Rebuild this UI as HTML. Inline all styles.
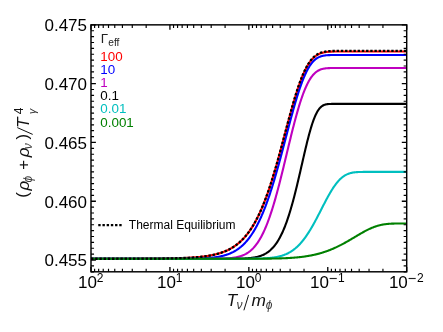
<!DOCTYPE html><html><head><meta charset="utf-8"><title>plot</title>
<style>html,body{margin:0;padding:0;background:#fff;}svg{display:block;will-change:transform;}text{font-family:"Liberation Sans",sans-serif;}</style></head><body>
<svg width="443" height="332" viewBox="0 0 443 332">
<rect x="0" y="0" width="443" height="332" fill="#fff"/>
<defs><clipPath id="c"><rect x="91.0" y="24.85" width="315.7" height="246.95000000000002"/></clipPath></defs>
<g clip-path="url(#c)" fill="none" stroke-width="2.1" stroke-linejoin="round">
<path d="M91.0,258.74 L91.5,258.74 L92.0,258.74 L92.5,258.74 L93.0,258.74 L93.5,258.74 L94.0,258.74 L94.5,258.74 L95.0,258.74 L95.5,258.74 L96.0,258.74 L96.5,258.74 L97.0,258.74 L97.5,258.74 L98.0,258.74 L98.5,258.74 L99.0,258.74 L99.5,258.74 L100.0,258.74 L100.5,258.74 L101.0,258.74 L101.5,258.74 L102.0,258.74 L102.5,258.74 L103.0,258.74 L103.5,258.74 L104.0,258.74 L104.5,258.74 L105.0,258.73 L105.5,258.73 L106.0,258.73 L106.5,258.73 L107.0,258.73 L107.5,258.73 L108.0,258.73 L108.5,258.73 L109.0,258.73 L109.5,258.73 L110.0,258.73 L110.5,258.73 L111.0,258.73 L111.5,258.73 L112.0,258.73 L112.5,258.73 L113.0,258.73 L113.5,258.73 L114.0,258.73 L114.5,258.73 L115.0,258.73 L115.5,258.73 L116.0,258.73 L116.5,258.73 L117.0,258.72 L117.5,258.72 L118.0,258.72 L118.5,258.72 L119.0,258.72 L119.5,258.72 L120.0,258.72 L120.5,258.72 L121.0,258.72 L121.5,258.72 L122.0,258.72 L122.5,258.72 L123.0,258.72 L123.5,258.72 L124.0,258.72 L124.5,258.71 L125.0,258.71 L125.5,258.71 L126.0,258.71 L126.5,258.71 L127.0,258.71 L127.5,258.71 L128.0,258.71 L128.5,258.71 L129.0,258.71 L129.5,258.71 L130.0,258.70 L130.5,258.70 L131.0,258.70 L131.5,258.70 L132.0,258.70 L132.5,258.70 L133.0,258.70 L133.5,258.70 L134.0,258.70 L134.5,258.69 L135.0,258.69 L135.5,258.69 L136.0,258.69 L136.5,258.69 L137.0,258.69 L137.5,258.68 L138.0,258.68 L138.5,258.68 L139.0,258.68 L139.5,258.68 L140.0,258.68 L140.5,258.67 L141.0,258.67 L141.5,258.67 L142.0,258.67 L142.5,258.67 L143.0,258.66 L143.5,258.66 L144.0,258.66 L144.5,258.66 L145.0,258.66 L145.5,258.65 L146.0,258.65 L146.5,258.65 L147.0,258.65 L147.5,258.64 L148.0,258.64 L148.5,258.64 L149.0,258.63 L149.5,258.63 L150.0,258.63 L150.5,258.63 L151.0,258.62 L151.5,258.62 L152.0,258.62 L152.5,258.61 L153.0,258.61 L153.5,258.60 L154.0,258.60 L154.5,258.60 L155.0,258.59 L155.5,258.59 L156.0,258.58 L156.5,258.58 L157.0,258.58 L157.5,258.57 L158.0,258.57 L158.5,258.56 L159.0,258.56 L159.5,258.55 L160.0,258.55 L160.5,258.54 L161.0,258.53 L161.5,258.53 L162.0,258.52 L162.5,258.52 L163.0,258.51 L163.5,258.50 L164.0,258.50 L164.5,258.49 L165.0,258.48 L165.5,258.48 L166.0,258.47 L166.5,258.46 L167.0,258.45 L167.5,258.44 L168.0,258.44 L168.5,258.43 L169.0,258.42 L169.5,258.41 L170.0,258.40 L170.5,258.39 L171.0,258.38 L171.5,258.37 L172.0,258.36 L172.5,258.35 L173.0,258.34 L173.5,258.33 L174.0,258.32 L174.5,258.30 L175.0,258.29 L175.5,258.28 L176.0,258.27 L176.5,258.25 L177.0,258.24 L177.5,258.22 L178.0,258.21 L178.5,258.20 L179.0,258.18 L179.5,258.16 L180.0,258.15 L180.5,258.13 L181.0,258.11 L181.5,258.10 L182.0,258.08 L182.5,258.06 L183.0,258.04 L183.5,258.02 L184.0,258.00 L184.5,257.98 L185.0,257.96 L185.5,257.93 L186.0,257.91 L186.5,257.89 L187.0,257.86 L187.5,257.84 L188.0,257.81 L188.5,257.79 L189.0,257.76 L189.5,257.73 L190.0,257.70 L190.5,257.67 L191.0,257.64 L191.5,257.61 L192.0,257.58 L192.5,257.54 L193.0,257.51 L193.5,257.48 L194.0,257.44 L194.5,257.40 L195.0,257.36 L195.5,257.32 L196.0,257.28 L196.5,257.24 L197.0,257.20 L197.5,257.16 L198.0,257.11 L198.5,257.06 L199.0,257.02 L199.5,256.97 L200.0,256.92 L200.5,256.86 L201.0,256.81 L201.5,256.75 L202.0,256.70 L202.5,256.64 L203.0,256.58 L203.5,256.52 L204.0,256.45 L204.5,256.39 L205.0,256.32 L205.5,256.25 L206.0,256.18 L206.5,256.11 L207.0,256.03 L207.5,255.95 L208.0,255.88 L208.5,255.79 L209.0,255.71 L209.5,255.62 L210.0,255.53 L210.5,255.44 L211.0,255.35 L211.5,255.25 L212.0,255.15 L212.5,255.05 L213.0,254.94 L213.5,254.84 L214.0,254.72 L214.5,254.61 L215.0,254.49 L215.5,254.37 L216.0,254.25 L216.5,254.12 L217.0,253.99 L217.5,253.85 L218.0,253.71 L218.5,253.57 L219.0,253.42 L219.5,253.27 L220.0,253.12 L220.5,252.96 L221.0,252.80 L221.5,252.63 L222.0,252.46 L222.5,252.28 L223.0,252.10 L223.5,251.91 L224.0,251.72 L224.5,251.52 L225.0,251.32 L225.5,251.11 L226.0,250.89 L226.5,250.67 L227.0,250.45 L227.5,250.21 L228.0,249.98 L228.5,249.73 L229.0,249.48 L229.5,249.22 L230.0,248.95 L230.5,248.68 L231.0,248.40 L231.5,248.12 L232.0,247.82 L232.5,247.52 L233.0,247.21 L233.5,246.89 L234.0,246.56 L234.5,246.23 L235.0,245.88 L235.5,245.53 L236.0,245.17 L236.5,244.80 L237.0,244.42 L237.5,244.03 L238.0,243.62 L238.5,243.21 L239.0,242.79 L239.5,242.36 L240.0,241.92 L240.5,241.46 L241.0,241.00 L241.5,240.52 L242.0,240.03 L242.5,239.53 L243.0,239.01 L243.5,238.49 L244.0,237.95 L244.5,237.40 L245.0,236.83 L245.5,236.25 L246.0,235.66 L246.5,235.05 L247.0,234.43 L247.5,233.80 L248.0,233.15 L248.5,232.48 L249.0,231.80 L249.5,231.10 L250.0,230.39 L250.5,229.66 L251.0,228.91 L251.5,228.15 L252.0,227.37 L252.5,226.58 L253.0,225.76 L253.5,224.93 L254.0,224.08 L254.5,223.21 L255.0,222.33 L255.5,221.42 L256.0,220.50 L256.5,219.55 L257.0,218.59 L257.5,217.61 L258.0,216.61 L258.5,215.59 L259.0,214.55 L259.5,213.48 L260.0,212.40 L260.5,211.30 L261.0,210.18 L261.5,209.03 L262.0,207.87 L262.5,206.68 L263.0,205.47 L263.5,204.24 L264.0,202.99 L264.5,201.72 L265.0,200.43 L265.5,199.11 L266.0,197.78 L266.5,196.42 L267.0,195.04 L267.5,193.64 L268.0,192.22 L268.5,190.78 L269.0,189.31 L269.5,187.83 L270.0,186.33 L270.5,184.80 L271.0,183.26 L271.5,181.69 L272.0,180.11 L272.5,178.50 L273.0,176.88 L273.5,175.24 L274.0,173.58 L274.5,171.90 L275.0,170.21 L275.5,168.50 L276.0,166.77 L276.5,165.03 L277.0,163.28 L277.5,161.50 L278.0,159.72 L278.5,157.92 L279.0,156.11 L279.5,154.29 L280.0,152.46 L280.5,150.62 L281.0,148.77 L281.5,146.91 L282.0,145.04 L282.5,143.17 L283.0,141.29 L283.5,139.41 L284.0,137.53 L284.5,135.64 L285.0,133.75 L285.5,131.87 L286.0,129.98 L286.5,128.10 L287.0,126.22 L287.5,124.34 L288.0,122.47 L288.5,120.61 L289.0,118.76 L289.5,116.91 L290.0,115.08 L290.5,113.25 L291.0,111.45 L291.5,109.65 L292.0,107.87 L292.5,106.11 L293.0,104.37 L293.5,102.64 L294.0,100.94 L294.5,99.25 L295.0,97.59 L295.5,95.95 L296.0,94.34 L296.5,92.75 L297.0,91.19 L297.5,89.66 L298.0,88.15 L298.5,86.68 L299.0,85.23 L299.5,83.82 L300.0,82.43 L300.5,81.08 L301.0,79.76 L301.5,78.48 L302.0,77.23 L302.5,76.01 L303.0,74.82 L303.5,73.67 L304.0,72.56 L304.5,71.48 L305.0,70.44 L305.5,69.43 L306.0,68.45 L306.5,67.51 L307.0,66.61 L307.5,65.74 L308.0,64.90 L308.5,64.10 L309.0,63.33 L309.5,62.60 L310.0,61.90 L310.5,61.23 L311.0,60.59 L311.5,59.98 L312.0,59.40 L312.5,58.85 L313.0,58.33 L313.5,57.84 L314.0,57.37 L314.5,56.94 L315.0,56.52 L315.5,56.13 L316.0,55.77 L316.5,55.42 L317.0,55.10 L317.5,54.80 L318.0,54.52 L318.5,54.26 L319.0,54.02 L319.5,53.79 L320.0,53.58 L320.5,53.39 L321.0,53.21 L321.5,53.05 L322.0,52.89 L322.5,52.75 L323.0,52.63 L323.5,52.51 L324.0,52.40 L324.5,52.30 L325.0,52.21 L325.5,52.13 L326.0,52.06 L326.5,51.99 L327.0,51.93 L327.5,51.88 L328.0,51.83 L328.5,51.78 L329.0,51.75 L329.5,51.71 L330.0,51.68 L330.5,51.65 L331.0,51.63 L331.5,51.60 L332.0,51.58 L332.5,51.57 L333.0,51.55 L333.5,51.54 L334.0,51.53 L334.5,51.52 L335.0,51.51 L335.5,51.50 L336.0,51.49 L336.5,51.49 L337.0,51.48 L337.5,51.48 L338.0,51.47 L338.5,51.47 L339.0,51.47 L339.5,51.46 L340.0,51.46 L340.5,51.46 L341.0,51.46 L341.5,51.46 L342.0,51.46 L342.5,51.45 L343.0,51.45 L343.5,51.45 L344.0,51.45 L344.5,51.45 L345.0,51.45 L345.5,51.45 L346.0,51.45 L346.5,51.45 L347.0,51.45 L347.5,51.45 L348.0,51.45 L348.5,51.45 L349.0,51.45 L349.5,51.45 L350.0,51.45 L350.5,51.45 L351.0,51.45 L351.5,51.45 L352.0,51.45 L352.5,51.45 L353.0,51.45 L353.5,51.45 L354.0,51.45 L354.5,51.45 L355.0,51.45 L355.5,51.45 L356.0,51.45 L356.5,51.45 L357.0,51.45 L357.5,51.45 L358.0,51.45 L358.5,51.45 L359.0,51.45 L359.5,51.45 L360.0,51.45 L360.5,51.45 L361.0,51.45 L361.5,51.45 L362.0,51.45 L362.5,51.45 L363.0,51.45 L363.5,51.45 L364.0,51.45 L364.5,51.45 L365.0,51.45 L365.5,51.45 L366.0,51.45 L366.5,51.45 L367.0,51.45 L367.5,51.45 L368.0,51.45 L368.5,51.45 L369.0,51.45 L369.5,51.45 L370.0,51.45 L370.5,51.45 L371.0,51.45 L371.5,51.45 L372.0,51.45 L372.5,51.45 L373.0,51.45 L373.5,51.45 L374.0,51.45 L374.5,51.45 L375.0,51.45 L375.5,51.45 L376.0,51.45 L376.5,51.45 L377.0,51.45 L377.5,51.45 L378.0,51.45 L378.5,51.45 L379.0,51.45 L379.5,51.45 L380.0,51.45 L380.5,51.45 L381.0,51.45 L381.5,51.45 L382.0,51.45 L382.5,51.45 L383.0,51.45 L383.5,51.45 L384.0,51.45 L384.5,51.45 L385.0,51.45 L385.5,51.45 L386.0,51.45 L386.5,51.45 L387.0,51.45 L387.5,51.45 L388.0,51.45 L388.5,51.45 L389.0,51.45 L389.5,51.45 L390.0,51.45 L390.5,51.45 L391.0,51.45 L391.5,51.45 L392.0,51.45 L392.5,51.45 L393.0,51.45 L393.5,51.45 L394.0,51.45 L394.5,51.45 L395.0,51.45 L395.5,51.45 L396.0,51.45 L396.5,51.45 L397.0,51.45 L397.5,51.45 L398.0,51.45 L398.5,51.45 L399.0,51.45 L399.5,51.45 L400.0,51.45 L400.5,51.45 L401.0,51.45 L401.5,51.45 L402.0,51.45 L402.5,51.45 L403.0,51.45 L403.5,51.45 L404.0,51.45 L404.5,51.45 L405.0,51.45 L405.5,51.45 L406.0,51.45 L406.5,51.45" stroke="#ff0000"/>
<path d="M91.0,258.75 L91.5,258.75 L92.0,258.75 L92.5,258.75 L93.0,258.75 L93.5,258.75 L94.0,258.75 L94.5,258.75 L95.0,258.75 L95.5,258.75 L96.0,258.75 L96.5,258.75 L97.0,258.75 L97.5,258.75 L98.0,258.75 L98.5,258.75 L99.0,258.75 L99.5,258.75 L100.0,258.75 L100.5,258.75 L101.0,258.75 L101.5,258.75 L102.0,258.75 L102.5,258.75 L103.0,258.75 L103.5,258.75 L104.0,258.75 L104.5,258.75 L105.0,258.75 L105.5,258.75 L106.0,258.75 L106.5,258.75 L107.0,258.75 L107.5,258.75 L108.0,258.75 L108.5,258.75 L109.0,258.75 L109.5,258.75 L110.0,258.75 L110.5,258.75 L111.0,258.75 L111.5,258.75 L112.0,258.75 L112.5,258.75 L113.0,258.75 L113.5,258.75 L114.0,258.75 L114.5,258.75 L115.0,258.75 L115.5,258.75 L116.0,258.75 L116.5,258.75 L117.0,258.75 L117.5,258.75 L118.0,258.75 L118.5,258.75 L119.0,258.75 L119.5,258.75 L120.0,258.75 L120.5,258.75 L121.0,258.75 L121.5,258.75 L122.0,258.75 L122.5,258.75 L123.0,258.75 L123.5,258.75 L124.0,258.75 L124.5,258.75 L125.0,258.75 L125.5,258.75 L126.0,258.75 L126.5,258.75 L127.0,258.75 L127.5,258.75 L128.0,258.75 L128.5,258.75 L129.0,258.75 L129.5,258.75 L130.0,258.75 L130.5,258.75 L131.0,258.75 L131.5,258.75 L132.0,258.75 L132.5,258.75 L133.0,258.75 L133.5,258.75 L134.0,258.75 L134.5,258.75 L135.0,258.75 L135.5,258.75 L136.0,258.75 L136.5,258.75 L137.0,258.75 L137.5,258.75 L138.0,258.75 L138.5,258.75 L139.0,258.75 L139.5,258.75 L140.0,258.75 L140.5,258.75 L141.0,258.75 L141.5,258.75 L142.0,258.75 L142.5,258.75 L143.0,258.75 L143.5,258.75 L144.0,258.75 L144.5,258.75 L145.0,258.75 L145.5,258.75 L146.0,258.75 L146.5,258.75 L147.0,258.75 L147.5,258.75 L148.0,258.75 L148.5,258.75 L149.0,258.75 L149.5,258.75 L150.0,258.75 L150.5,258.75 L151.0,258.75 L151.5,258.75 L152.0,258.75 L152.5,258.75 L153.0,258.75 L153.5,258.75 L154.0,258.75 L154.5,258.75 L155.0,258.75 L155.5,258.75 L156.0,258.75 L156.5,258.75 L157.0,258.75 L157.5,258.75 L158.0,258.75 L158.5,258.75 L159.0,258.75 L159.5,258.75 L160.0,258.75 L160.5,258.75 L161.0,258.75 L161.5,258.75 L162.0,258.75 L162.5,258.75 L163.0,258.75 L163.5,258.75 L164.0,258.75 L164.5,258.75 L165.0,258.75 L165.5,258.75 L166.0,258.75 L166.5,258.75 L167.0,258.75 L167.5,258.75 L168.0,258.74 L168.5,258.74 L169.0,258.74 L169.5,258.74 L170.0,258.74 L170.5,258.74 L171.0,258.74 L171.5,258.74 L172.0,258.74 L172.5,258.74 L173.0,258.74 L173.5,258.74 L174.0,258.74 L174.5,258.74 L175.0,258.74 L175.5,258.73 L176.0,258.73 L176.5,258.73 L177.0,258.73 L177.5,258.73 L178.0,258.73 L178.5,258.73 L179.0,258.72 L179.5,258.72 L180.0,258.72 L180.5,258.72 L181.0,258.72 L181.5,258.71 L182.0,258.71 L182.5,258.71 L183.0,258.71 L183.5,258.70 L184.0,258.70 L184.5,258.70 L185.0,258.69 L185.5,258.69 L186.0,258.69 L186.5,258.68 L187.0,258.68 L187.5,258.67 L188.0,258.67 L188.5,258.66 L189.0,258.66 L189.5,258.65 L190.0,258.65 L190.5,258.64 L191.0,258.63 L191.5,258.63 L192.0,258.62 L192.5,258.61 L193.0,258.60 L193.5,258.60 L194.0,258.59 L194.5,258.58 L195.0,258.57 L195.5,258.56 L196.0,258.54 L196.5,258.53 L197.0,258.52 L197.5,258.51 L198.0,258.49 L198.5,258.48 L199.0,258.46 L199.5,258.45 L200.0,258.43 L200.5,258.41 L201.0,258.39 L201.5,258.37 L202.0,258.35 L202.5,258.33 L203.0,258.31 L203.5,258.28 L204.0,258.26 L204.5,258.23 L205.0,258.21 L205.5,258.18 L206.0,258.15 L206.5,258.12 L207.0,258.08 L207.5,258.05 L208.0,258.01 L208.5,257.97 L209.0,257.93 L209.5,257.89 L210.0,257.85 L210.5,257.81 L211.0,257.76 L211.5,257.71 L212.0,257.66 L212.5,257.60 L213.0,257.55 L213.5,257.49 L214.0,257.43 L214.5,257.37 L215.0,257.30 L215.5,257.23 L216.0,257.16 L216.5,257.08 L217.0,257.01 L217.5,256.92 L218.0,256.84 L218.5,256.75 L219.0,256.66 L219.5,256.57 L220.0,256.47 L220.5,256.36 L221.0,256.26 L221.5,256.15 L222.0,256.03 L222.5,255.91 L223.0,255.79 L223.5,255.66 L224.0,255.52 L224.5,255.38 L225.0,255.24 L225.5,255.09 L226.0,254.93 L226.5,254.77 L227.0,254.60 L227.5,254.43 L228.0,254.25 L228.5,254.07 L229.0,253.87 L229.5,253.68 L230.0,253.47 L230.5,253.26 L231.0,253.04 L231.5,252.81 L232.0,252.57 L232.5,252.33 L233.0,252.07 L233.5,251.81 L234.0,251.54 L234.5,251.27 L235.0,250.98 L235.5,250.68 L236.0,250.38 L236.5,250.06 L237.0,249.73 L237.5,249.40 L238.0,249.05 L238.5,248.69 L239.0,248.33 L239.5,247.95 L240.0,247.55 L240.5,247.15 L241.0,246.74 L241.5,246.31 L242.0,245.87 L242.5,245.42 L243.0,244.95 L243.5,244.47 L244.0,243.98 L244.5,243.47 L245.0,242.95 L245.5,242.41 L246.0,241.86 L246.5,241.30 L247.0,240.72 L247.5,240.12 L248.0,239.51 L248.5,238.88 L249.0,238.24 L249.5,237.58 L250.0,236.90 L250.5,236.20 L251.0,235.49 L251.5,234.76 L252.0,234.01 L252.5,233.25 L253.0,232.46 L253.5,231.66 L254.0,230.84 L254.5,230.00 L255.0,229.14 L255.5,228.26 L256.0,227.36 L256.5,226.44 L257.0,225.50 L257.5,224.54 L258.0,223.56 L258.5,222.55 L259.0,221.53 L259.5,220.49 L260.0,219.42 L260.5,218.34 L261.0,217.23 L261.5,216.10 L262.0,214.95 L262.5,213.78 L263.0,212.58 L263.5,211.36 L264.0,210.13 L264.5,208.87 L265.0,207.58 L265.5,206.28 L266.0,204.95 L266.5,203.60 L267.0,202.23 L267.5,200.84 L268.0,199.43 L268.5,197.99 L269.0,196.54 L269.5,195.06 L270.0,193.56 L270.5,192.04 L271.0,190.50 L271.5,188.94 L272.0,187.36 L272.5,185.77 L273.0,184.15 L273.5,182.51 L274.0,180.85 L274.5,179.18 L275.0,177.49 L275.5,175.78 L276.0,174.05 L276.5,172.31 L277.0,170.55 L277.5,168.78 L278.0,166.99 L278.5,165.19 L279.0,163.37 L279.5,161.54 L280.0,159.71 L280.5,157.86 L281.0,156.00 L281.5,154.13 L282.0,152.25 L282.5,150.36 L283.0,148.47 L283.5,146.57 L284.0,144.67 L284.5,142.76 L285.0,140.85 L285.5,138.94 L286.0,137.03 L286.5,135.12 L287.0,133.21 L287.5,131.30 L288.0,129.39 L288.5,127.49 L289.0,125.60 L289.5,123.71 L290.0,121.83 L290.5,119.96 L291.0,118.10 L291.5,116.25 L292.0,114.42 L292.5,112.60 L293.0,110.79 L293.5,109.00 L294.0,107.23 L294.5,105.48 L295.0,103.74 L295.5,102.03 L296.0,100.34 L296.5,98.68 L297.0,97.03 L297.5,95.42 L298.0,93.83 L298.5,92.27 L299.0,90.73 L299.5,89.23 L300.0,87.75 L300.5,86.31 L301.0,84.90 L301.5,83.52 L302.0,82.17 L302.5,80.86 L303.0,79.59 L303.5,78.35 L304.0,77.14 L304.5,75.97 L305.0,74.83 L305.5,73.74 L306.0,72.68 L306.5,71.65 L307.0,70.67 L307.5,69.72 L308.0,68.80 L308.5,67.93 L309.0,67.09 L309.5,66.28 L310.0,65.52 L310.5,64.78 L311.0,64.09 L311.5,63.43 L312.0,62.80 L312.5,62.20 L313.0,61.64 L313.5,61.11 L314.0,60.61 L314.5,60.14 L315.0,59.70 L315.5,59.29 L316.0,58.90 L316.5,58.54 L317.0,58.21 L317.5,57.90 L318.0,57.61 L318.5,57.35 L319.0,57.11 L319.5,56.88 L320.0,56.68 L320.5,56.49 L321.0,56.32 L321.5,56.17 L322.0,56.03 L322.5,55.90 L323.0,55.79 L323.5,55.69 L324.0,55.60 L324.5,55.52 L325.0,55.45 L325.5,55.38 L326.0,55.33 L326.5,55.28 L327.0,55.24 L327.5,55.20 L328.0,55.17 L328.5,55.14 L329.0,55.12 L329.5,55.10 L330.0,55.08 L330.5,55.07 L331.0,55.05 L331.5,55.04 L332.0,55.04 L332.5,55.03 L333.0,55.02 L333.5,55.02 L334.0,55.01 L334.5,55.01 L335.0,55.01 L335.5,55.01 L336.0,55.01 L336.5,55.00 L337.0,55.00 L337.5,55.00 L338.0,55.00 L338.5,55.00 L339.0,55.00 L339.5,55.00 L340.0,55.00 L340.5,55.00 L341.0,55.00 L341.5,55.00 L342.0,55.00 L342.5,55.00 L343.0,55.00 L343.5,55.00 L344.0,55.00 L344.5,55.00 L345.0,55.00 L345.5,55.00 L346.0,55.00 L346.5,55.00 L347.0,55.00 L347.5,55.00 L348.0,55.00 L348.5,55.00 L349.0,55.00 L349.5,55.00 L350.0,55.00 L350.5,55.00 L351.0,55.00 L351.5,55.00 L352.0,55.00 L352.5,55.00 L353.0,55.00 L353.5,55.00 L354.0,55.00 L354.5,55.00 L355.0,55.00 L355.5,55.00 L356.0,55.00 L356.5,55.00 L357.0,55.00 L357.5,55.00 L358.0,55.00 L358.5,55.00 L359.0,55.00 L359.5,55.00 L360.0,55.00 L360.5,55.00 L361.0,55.00 L361.5,55.00 L362.0,55.00 L362.5,55.00 L363.0,55.00 L363.5,55.00 L364.0,55.00 L364.5,55.00 L365.0,55.00 L365.5,55.00 L366.0,55.00 L366.5,55.00 L367.0,55.00 L367.5,55.00 L368.0,55.00 L368.5,55.00 L369.0,55.00 L369.5,55.00 L370.0,55.00 L370.5,55.00 L371.0,55.00 L371.5,55.00 L372.0,55.00 L372.5,55.00 L373.0,55.00 L373.5,55.00 L374.0,55.00 L374.5,55.00 L375.0,55.00 L375.5,55.00 L376.0,55.00 L376.5,55.00 L377.0,55.00 L377.5,55.00 L378.0,55.00 L378.5,55.00 L379.0,55.00 L379.5,55.00 L380.0,55.00 L380.5,55.00 L381.0,55.00 L381.5,55.00 L382.0,55.00 L382.5,55.00 L383.0,55.00 L383.5,55.00 L384.0,55.00 L384.5,55.00 L385.0,55.00 L385.5,55.00 L386.0,55.00 L386.5,55.00 L387.0,55.00 L387.5,55.00 L388.0,55.00 L388.5,55.00 L389.0,55.00 L389.5,55.00 L390.0,55.00 L390.5,55.00 L391.0,55.00 L391.5,55.00 L392.0,55.00 L392.5,55.00 L393.0,55.00 L393.5,55.00 L394.0,55.00 L394.5,55.00 L395.0,55.00 L395.5,55.00 L396.0,55.00 L396.5,55.00 L397.0,55.00 L397.5,55.00 L398.0,55.00 L398.5,55.00 L399.0,55.00 L399.5,55.00 L400.0,55.00 L400.5,55.00 L401.0,55.00 L401.5,55.00 L402.0,55.00 L402.5,55.00 L403.0,55.00 L403.5,55.00 L404.0,55.00 L404.5,55.00 L405.0,55.00 L405.5,55.00 L406.0,55.00 L406.5,55.00" stroke="#0000ff"/>
<path d="M91.0,258.75 L91.5,258.75 L92.0,258.75 L92.5,258.75 L93.0,258.75 L93.5,258.75 L94.0,258.75 L94.5,258.75 L95.0,258.75 L95.5,258.75 L96.0,258.75 L96.5,258.75 L97.0,258.75 L97.5,258.75 L98.0,258.75 L98.5,258.75 L99.0,258.75 L99.5,258.75 L100.0,258.75 L100.5,258.75 L101.0,258.75 L101.5,258.75 L102.0,258.75 L102.5,258.75 L103.0,258.75 L103.5,258.75 L104.0,258.75 L104.5,258.75 L105.0,258.75 L105.5,258.75 L106.0,258.75 L106.5,258.75 L107.0,258.75 L107.5,258.75 L108.0,258.75 L108.5,258.75 L109.0,258.75 L109.5,258.75 L110.0,258.75 L110.5,258.75 L111.0,258.75 L111.5,258.75 L112.0,258.75 L112.5,258.75 L113.0,258.75 L113.5,258.75 L114.0,258.75 L114.5,258.75 L115.0,258.75 L115.5,258.75 L116.0,258.75 L116.5,258.75 L117.0,258.75 L117.5,258.75 L118.0,258.75 L118.5,258.75 L119.0,258.75 L119.5,258.75 L120.0,258.75 L120.5,258.75 L121.0,258.75 L121.5,258.75 L122.0,258.75 L122.5,258.75 L123.0,258.75 L123.5,258.75 L124.0,258.75 L124.5,258.75 L125.0,258.75 L125.5,258.75 L126.0,258.75 L126.5,258.75 L127.0,258.75 L127.5,258.75 L128.0,258.75 L128.5,258.75 L129.0,258.75 L129.5,258.75 L130.0,258.75 L130.5,258.75 L131.0,258.75 L131.5,258.75 L132.0,258.75 L132.5,258.75 L133.0,258.75 L133.5,258.75 L134.0,258.75 L134.5,258.75 L135.0,258.75 L135.5,258.75 L136.0,258.75 L136.5,258.75 L137.0,258.75 L137.5,258.75 L138.0,258.75 L138.5,258.75 L139.0,258.75 L139.5,258.75 L140.0,258.75 L140.5,258.75 L141.0,258.75 L141.5,258.75 L142.0,258.75 L142.5,258.75 L143.0,258.75 L143.5,258.75 L144.0,258.75 L144.5,258.75 L145.0,258.75 L145.5,258.75 L146.0,258.75 L146.5,258.75 L147.0,258.75 L147.5,258.75 L148.0,258.75 L148.5,258.75 L149.0,258.75 L149.5,258.75 L150.0,258.75 L150.5,258.75 L151.0,258.75 L151.5,258.75 L152.0,258.75 L152.5,258.75 L153.0,258.75 L153.5,258.75 L154.0,258.75 L154.5,258.75 L155.0,258.75 L155.5,258.75 L156.0,258.75 L156.5,258.75 L157.0,258.75 L157.5,258.75 L158.0,258.75 L158.5,258.75 L159.0,258.75 L159.5,258.75 L160.0,258.75 L160.5,258.75 L161.0,258.75 L161.5,258.75 L162.0,258.75 L162.5,258.75 L163.0,258.75 L163.5,258.75 L164.0,258.75 L164.5,258.75 L165.0,258.75 L165.5,258.75 L166.0,258.75 L166.5,258.75 L167.0,258.75 L167.5,258.75 L168.0,258.75 L168.5,258.75 L169.0,258.75 L169.5,258.75 L170.0,258.75 L170.5,258.75 L171.0,258.75 L171.5,258.75 L172.0,258.75 L172.5,258.75 L173.0,258.75 L173.5,258.75 L174.0,258.75 L174.5,258.75 L175.0,258.75 L175.5,258.75 L176.0,258.75 L176.5,258.75 L177.0,258.75 L177.5,258.75 L178.0,258.75 L178.5,258.75 L179.0,258.75 L179.5,258.75 L180.0,258.75 L180.5,258.75 L181.0,258.75 L181.5,258.75 L182.0,258.75 L182.5,258.75 L183.0,258.75 L183.5,258.75 L184.0,258.75 L184.5,258.75 L185.0,258.75 L185.5,258.75 L186.0,258.75 L186.5,258.75 L187.0,258.75 L187.5,258.75 L188.0,258.75 L188.5,258.75 L189.0,258.75 L189.5,258.75 L190.0,258.75 L190.5,258.75 L191.0,258.75 L191.5,258.75 L192.0,258.75 L192.5,258.75 L193.0,258.75 L193.5,258.75 L194.0,258.75 L194.5,258.75 L195.0,258.75 L195.5,258.75 L196.0,258.75 L196.5,258.75 L197.0,258.75 L197.5,258.75 L198.0,258.75 L198.5,258.75 L199.0,258.75 L199.5,258.75 L200.0,258.75 L200.5,258.75 L201.0,258.75 L201.5,258.75 L202.0,258.75 L202.5,258.75 L203.0,258.75 L203.5,258.75 L204.0,258.74 L204.5,258.74 L205.0,258.74 L205.5,258.74 L206.0,258.74 L206.5,258.74 L207.0,258.74 L207.5,258.74 L208.0,258.74 L208.5,258.74 L209.0,258.73 L209.5,258.73 L210.0,258.73 L210.5,258.73 L211.0,258.73 L211.5,258.72 L212.0,258.72 L212.5,258.72 L213.0,258.72 L213.5,258.71 L214.0,258.71 L214.5,258.70 L215.0,258.70 L215.5,258.69 L216.0,258.69 L216.5,258.68 L217.0,258.68 L217.5,258.67 L218.0,258.66 L218.5,258.65 L219.0,258.65 L219.5,258.64 L220.0,258.63 L220.5,258.62 L221.0,258.60 L221.5,258.59 L222.0,258.58 L222.5,258.56 L223.0,258.54 L223.5,258.53 L224.0,258.51 L224.5,258.49 L225.0,258.47 L225.5,258.44 L226.0,258.42 L226.5,258.39 L227.0,258.36 L227.5,258.33 L228.0,258.30 L228.5,258.26 L229.0,258.22 L229.5,258.18 L230.0,258.14 L230.5,258.09 L231.0,258.04 L231.5,257.99 L232.0,257.93 L232.5,257.87 L233.0,257.80 L233.5,257.73 L234.0,257.66 L234.5,257.58 L235.0,257.50 L235.5,257.41 L236.0,257.32 L236.5,257.22 L237.0,257.11 L237.5,257.00 L238.0,256.88 L238.5,256.76 L239.0,256.63 L239.5,256.49 L240.0,256.34 L240.5,256.19 L241.0,256.02 L241.5,255.85 L242.0,255.67 L242.5,255.47 L243.0,255.27 L243.5,255.06 L244.0,254.83 L244.5,254.60 L245.0,254.35 L245.5,254.09 L246.0,253.82 L246.5,253.53 L247.0,253.23 L247.5,252.92 L248.0,252.59 L248.5,252.25 L249.0,251.89 L249.5,251.51 L250.0,251.12 L250.5,250.71 L251.0,250.28 L251.5,249.83 L252.0,249.37 L252.5,248.88 L253.0,248.38 L253.5,247.85 L254.0,247.31 L254.5,246.74 L255.0,246.15 L255.5,245.54 L256.0,244.90 L256.5,244.24 L257.0,243.55 L257.5,242.84 L258.0,242.11 L258.5,241.35 L259.0,240.56 L259.5,239.75 L260.0,238.91 L260.5,238.04 L261.0,237.15 L261.5,236.22 L262.0,235.27 L262.5,234.29 L263.0,233.27 L263.5,232.23 L264.0,231.16 L264.5,230.06 L265.0,228.93 L265.5,227.77 L266.0,226.57 L266.5,225.35 L267.0,224.09 L267.5,222.81 L268.0,221.49 L268.5,220.14 L269.0,218.76 L269.5,217.35 L270.0,215.91 L270.5,214.44 L271.0,212.94 L271.5,211.41 L272.0,209.84 L272.5,208.25 L273.0,206.63 L273.5,204.99 L274.0,203.31 L274.5,201.61 L275.0,199.88 L275.5,198.12 L276.0,196.34 L276.5,194.53 L277.0,192.70 L277.5,190.85 L278.0,188.97 L278.5,187.07 L279.0,185.15 L279.5,183.22 L280.0,181.26 L280.5,179.29 L281.0,177.30 L281.5,175.29 L282.0,173.27 L282.5,171.24 L283.0,169.20 L283.5,167.15 L284.0,165.09 L284.5,163.02 L285.0,160.94 L285.5,158.86 L286.0,156.78 L286.5,154.70 L287.0,152.61 L287.5,150.53 L288.0,148.45 L288.5,146.37 L289.0,144.30 L289.5,142.24 L290.0,140.18 L290.5,138.14 L291.0,136.10 L291.5,134.08 L292.0,132.08 L292.5,130.09 L293.0,128.11 L293.5,126.16 L294.0,124.23 L294.5,122.31 L295.0,120.42 L295.5,118.56 L296.0,116.72 L296.5,114.91 L297.0,113.12 L297.5,111.37 L298.0,109.64 L298.5,107.95 L299.0,106.28 L299.5,104.66 L300.0,103.06 L300.5,101.50 L301.0,99.98 L301.5,98.49 L302.0,97.04 L302.5,95.63 L303.0,94.25 L303.5,92.92 L304.0,91.62 L304.5,90.36 L305.0,89.15 L305.5,87.97 L306.0,86.83 L306.5,85.73 L307.0,84.68 L307.5,83.66 L308.0,82.68 L308.5,81.75 L309.0,80.85 L309.5,79.99 L310.0,79.17 L310.5,78.39 L311.0,77.64 L311.5,76.94 L312.0,76.27 L312.5,75.63 L313.0,75.03 L313.5,74.46 L314.0,73.93 L314.5,73.43 L315.0,72.96 L315.5,72.52 L316.0,72.11 L316.5,71.73 L317.0,71.37 L317.5,71.04 L318.0,70.74 L318.5,70.45 L319.0,70.20 L319.5,69.96 L320.0,69.74 L320.5,69.54 L321.0,69.36 L321.5,69.20 L322.0,69.05 L322.5,68.92 L323.0,68.80 L323.5,68.70 L324.0,68.60 L324.5,68.52 L325.0,68.44 L325.5,68.38 L326.0,68.32 L326.5,68.27 L327.0,68.23 L327.5,68.19 L328.0,68.16 L328.5,68.13 L329.0,68.11 L329.5,68.09 L330.0,68.07 L330.5,68.06 L331.0,68.05 L331.5,68.04 L332.0,68.03 L332.5,68.02 L333.0,68.02 L333.5,68.01 L334.0,68.01 L334.5,68.01 L335.0,68.01 L335.5,68.00 L336.0,68.00 L336.5,68.00 L337.0,68.00 L337.5,68.00 L338.0,68.00 L338.5,68.00 L339.0,68.00 L339.5,68.00 L340.0,68.00 L340.5,68.00 L341.0,68.00 L341.5,68.00 L342.0,68.00 L342.5,68.00 L343.0,68.00 L343.5,68.00 L344.0,68.00 L344.5,68.00 L345.0,68.00 L345.5,68.00 L346.0,68.00 L346.5,68.00 L347.0,68.00 L347.5,68.00 L348.0,68.00 L348.5,68.00 L349.0,68.00 L349.5,68.00 L350.0,68.00 L350.5,68.00 L351.0,68.00 L351.5,68.00 L352.0,68.00 L352.5,68.00 L353.0,68.00 L353.5,68.00 L354.0,68.00 L354.5,68.00 L355.0,68.00 L355.5,68.00 L356.0,68.00 L356.5,68.00 L357.0,68.00 L357.5,68.00 L358.0,68.00 L358.5,68.00 L359.0,68.00 L359.5,68.00 L360.0,68.00 L360.5,68.00 L361.0,68.00 L361.5,68.00 L362.0,68.00 L362.5,68.00 L363.0,68.00 L363.5,68.00 L364.0,68.00 L364.5,68.00 L365.0,68.00 L365.5,68.00 L366.0,68.00 L366.5,68.00 L367.0,68.00 L367.5,68.00 L368.0,68.00 L368.5,68.00 L369.0,68.00 L369.5,68.00 L370.0,68.00 L370.5,68.00 L371.0,68.00 L371.5,68.00 L372.0,68.00 L372.5,68.00 L373.0,68.00 L373.5,68.00 L374.0,68.00 L374.5,68.00 L375.0,68.00 L375.5,68.00 L376.0,68.00 L376.5,68.00 L377.0,68.00 L377.5,68.00 L378.0,68.00 L378.5,68.00 L379.0,68.00 L379.5,68.00 L380.0,68.00 L380.5,68.00 L381.0,68.00 L381.5,68.00 L382.0,68.00 L382.5,68.00 L383.0,68.00 L383.5,68.00 L384.0,68.00 L384.5,68.00 L385.0,68.00 L385.5,68.00 L386.0,68.00 L386.5,68.00 L387.0,68.00 L387.5,68.00 L388.0,68.00 L388.5,68.00 L389.0,68.00 L389.5,68.00 L390.0,68.00 L390.5,68.00 L391.0,68.00 L391.5,68.00 L392.0,68.00 L392.5,68.00 L393.0,68.00 L393.5,68.00 L394.0,68.00 L394.5,68.00 L395.0,68.00 L395.5,68.00 L396.0,68.00 L396.5,68.00 L397.0,68.00 L397.5,68.00 L398.0,68.00 L398.5,68.00 L399.0,68.00 L399.5,68.00 L400.0,68.00 L400.5,68.00 L401.0,68.00 L401.5,68.00 L402.0,68.00 L402.5,68.00 L403.0,68.00 L403.5,68.00 L404.0,68.00 L404.5,68.00 L405.0,68.00 L405.5,68.00 L406.0,68.00 L406.5,68.00" stroke="#bf00bf"/>
<path d="M91.0,258.75 L91.5,258.75 L92.0,258.75 L92.5,258.75 L93.0,258.75 L93.5,258.75 L94.0,258.75 L94.5,258.75 L95.0,258.75 L95.5,258.75 L96.0,258.75 L96.5,258.75 L97.0,258.75 L97.5,258.75 L98.0,258.75 L98.5,258.75 L99.0,258.75 L99.5,258.75 L100.0,258.75 L100.5,258.75 L101.0,258.75 L101.5,258.75 L102.0,258.75 L102.5,258.75 L103.0,258.75 L103.5,258.75 L104.0,258.75 L104.5,258.75 L105.0,258.75 L105.5,258.75 L106.0,258.75 L106.5,258.75 L107.0,258.75 L107.5,258.75 L108.0,258.75 L108.5,258.75 L109.0,258.75 L109.5,258.75 L110.0,258.75 L110.5,258.75 L111.0,258.75 L111.5,258.75 L112.0,258.75 L112.5,258.75 L113.0,258.75 L113.5,258.75 L114.0,258.75 L114.5,258.75 L115.0,258.75 L115.5,258.75 L116.0,258.75 L116.5,258.75 L117.0,258.75 L117.5,258.75 L118.0,258.75 L118.5,258.75 L119.0,258.75 L119.5,258.75 L120.0,258.75 L120.5,258.75 L121.0,258.75 L121.5,258.75 L122.0,258.75 L122.5,258.75 L123.0,258.75 L123.5,258.75 L124.0,258.75 L124.5,258.75 L125.0,258.75 L125.5,258.75 L126.0,258.75 L126.5,258.75 L127.0,258.75 L127.5,258.75 L128.0,258.75 L128.5,258.75 L129.0,258.75 L129.5,258.75 L130.0,258.75 L130.5,258.75 L131.0,258.75 L131.5,258.75 L132.0,258.75 L132.5,258.75 L133.0,258.75 L133.5,258.75 L134.0,258.75 L134.5,258.75 L135.0,258.75 L135.5,258.75 L136.0,258.75 L136.5,258.75 L137.0,258.75 L137.5,258.75 L138.0,258.75 L138.5,258.75 L139.0,258.75 L139.5,258.75 L140.0,258.75 L140.5,258.75 L141.0,258.75 L141.5,258.75 L142.0,258.75 L142.5,258.75 L143.0,258.75 L143.5,258.75 L144.0,258.75 L144.5,258.75 L145.0,258.75 L145.5,258.75 L146.0,258.75 L146.5,258.75 L147.0,258.75 L147.5,258.75 L148.0,258.75 L148.5,258.75 L149.0,258.75 L149.5,258.75 L150.0,258.75 L150.5,258.75 L151.0,258.75 L151.5,258.75 L152.0,258.75 L152.5,258.75 L153.0,258.75 L153.5,258.75 L154.0,258.75 L154.5,258.75 L155.0,258.75 L155.5,258.75 L156.0,258.75 L156.5,258.75 L157.0,258.75 L157.5,258.75 L158.0,258.75 L158.5,258.75 L159.0,258.75 L159.5,258.75 L160.0,258.75 L160.5,258.75 L161.0,258.75 L161.5,258.75 L162.0,258.75 L162.5,258.75 L163.0,258.75 L163.5,258.75 L164.0,258.75 L164.5,258.75 L165.0,258.75 L165.5,258.75 L166.0,258.75 L166.5,258.75 L167.0,258.75 L167.5,258.75 L168.0,258.75 L168.5,258.75 L169.0,258.75 L169.5,258.75 L170.0,258.75 L170.5,258.75 L171.0,258.75 L171.5,258.75 L172.0,258.75 L172.5,258.75 L173.0,258.75 L173.5,258.75 L174.0,258.75 L174.5,258.75 L175.0,258.75 L175.5,258.75 L176.0,258.75 L176.5,258.75 L177.0,258.75 L177.5,258.75 L178.0,258.75 L178.5,258.75 L179.0,258.75 L179.5,258.75 L180.0,258.75 L180.5,258.75 L181.0,258.75 L181.5,258.75 L182.0,258.75 L182.5,258.75 L183.0,258.75 L183.5,258.75 L184.0,258.75 L184.5,258.75 L185.0,258.75 L185.5,258.75 L186.0,258.75 L186.5,258.75 L187.0,258.75 L187.5,258.75 L188.0,258.75 L188.5,258.75 L189.0,258.75 L189.5,258.75 L190.0,258.75 L190.5,258.75 L191.0,258.75 L191.5,258.75 L192.0,258.75 L192.5,258.75 L193.0,258.75 L193.5,258.75 L194.0,258.75 L194.5,258.75 L195.0,258.75 L195.5,258.75 L196.0,258.75 L196.5,258.75 L197.0,258.75 L197.5,258.75 L198.0,258.75 L198.5,258.75 L199.0,258.75 L199.5,258.75 L200.0,258.75 L200.5,258.75 L201.0,258.75 L201.5,258.75 L202.0,258.75 L202.5,258.75 L203.0,258.75 L203.5,258.75 L204.0,258.75 L204.5,258.75 L205.0,258.75 L205.5,258.75 L206.0,258.75 L206.5,258.75 L207.0,258.75 L207.5,258.75 L208.0,258.75 L208.5,258.75 L209.0,258.75 L209.5,258.75 L210.0,258.75 L210.5,258.75 L211.0,258.75 L211.5,258.75 L212.0,258.75 L212.5,258.75 L213.0,258.75 L213.5,258.75 L214.0,258.75 L214.5,258.75 L215.0,258.75 L215.5,258.75 L216.0,258.75 L216.5,258.75 L217.0,258.75 L217.5,258.75 L218.0,258.75 L218.5,258.75 L219.0,258.75 L219.5,258.75 L220.0,258.75 L220.5,258.75 L221.0,258.75 L221.5,258.75 L222.0,258.74 L222.5,258.74 L223.0,258.74 L223.5,258.74 L224.0,258.74 L224.5,258.74 L225.0,258.74 L225.5,258.74 L226.0,258.74 L226.5,258.74 L227.0,258.74 L227.5,258.73 L228.0,258.73 L228.5,258.73 L229.0,258.73 L229.5,258.73 L230.0,258.72 L230.5,258.72 L231.0,258.72 L231.5,258.72 L232.0,258.71 L232.5,258.71 L233.0,258.70 L233.5,258.70 L234.0,258.70 L234.5,258.69 L235.0,258.68 L235.5,258.68 L236.0,258.67 L236.5,258.67 L237.0,258.66 L237.5,258.65 L238.0,258.64 L238.5,258.63 L239.0,258.62 L239.5,258.61 L240.0,258.60 L240.5,258.58 L241.0,258.57 L241.5,258.55 L242.0,258.54 L242.5,258.52 L243.0,258.50 L243.5,258.48 L244.0,258.46 L244.5,258.43 L245.0,258.41 L245.5,258.38 L246.0,258.35 L246.5,258.32 L247.0,258.29 L247.5,258.25 L248.0,258.21 L248.5,258.17 L249.0,258.13 L249.5,258.08 L250.0,258.03 L250.5,257.98 L251.0,257.93 L251.5,257.87 L252.0,257.80 L252.5,257.74 L253.0,257.66 L253.5,257.59 L254.0,257.51 L254.5,257.42 L255.0,257.33 L255.5,257.23 L256.0,257.13 L256.5,257.02 L257.0,256.91 L257.5,256.79 L258.0,256.66 L258.5,256.53 L259.0,256.38 L259.5,256.23 L260.0,256.07 L260.5,255.91 L261.0,255.73 L261.5,255.54 L262.0,255.35 L262.5,255.14 L263.0,254.92 L263.5,254.69 L264.0,254.45 L264.5,254.20 L265.0,253.94 L265.5,253.66 L266.0,253.37 L266.5,253.06 L267.0,252.74 L267.5,252.40 L268.0,252.05 L268.5,251.69 L269.0,251.30 L269.5,250.90 L270.0,250.48 L270.5,250.04 L271.0,249.58 L271.5,249.10 L272.0,248.60 L272.5,248.08 L273.0,247.54 L273.5,246.97 L274.0,246.39 L274.5,245.77 L275.0,245.14 L275.5,244.48 L276.0,243.79 L276.5,243.07 L277.0,242.33 L277.5,241.56 L278.0,240.77 L278.5,239.94 L279.0,239.08 L279.5,238.19 L280.0,237.28 L280.5,236.33 L281.0,235.34 L281.5,234.33 L282.0,233.28 L282.5,232.20 L283.0,231.08 L283.5,229.93 L284.0,228.75 L284.5,227.52 L285.0,226.27 L285.5,224.97 L286.0,223.64 L286.5,222.27 L287.0,220.87 L287.5,219.43 L288.0,217.95 L288.5,216.44 L289.0,214.89 L289.5,213.30 L290.0,211.67 L290.5,210.01 L291.0,208.31 L291.5,206.58 L292.0,204.81 L292.5,203.01 L293.0,201.18 L293.5,199.31 L294.0,197.41 L294.5,195.48 L295.0,193.52 L295.5,191.53 L296.0,189.52 L296.5,187.48 L297.0,185.42 L297.5,183.33 L298.0,181.23 L298.5,179.10 L299.0,176.96 L299.5,174.81 L300.0,172.64 L300.5,170.47 L301.0,168.28 L301.5,166.10 L302.0,163.91 L302.5,161.73 L303.0,159.54 L303.5,157.37 L304.0,155.21 L304.5,153.06 L305.0,150.92 L305.5,148.81 L306.0,146.72 L306.5,144.65 L307.0,142.61 L307.5,140.61 L308.0,138.64 L308.5,136.71 L309.0,134.83 L309.5,132.99 L310.0,131.19 L310.5,129.45 L311.0,127.76 L311.5,126.12 L312.0,124.54 L312.5,123.02 L313.0,121.56 L313.5,120.17 L314.0,118.84 L314.5,117.57 L315.0,116.37 L315.5,115.23 L316.0,114.16 L316.5,113.16 L317.0,112.22 L317.5,111.34 L318.0,110.53 L318.5,109.78 L319.0,109.09 L319.5,108.46 L320.0,107.89 L320.5,107.37 L321.0,106.90 L321.5,106.48 L322.0,106.10 L322.5,105.77 L323.0,105.48 L323.5,105.22 L324.0,105.00 L324.5,104.81 L325.0,104.64 L325.5,104.50 L326.0,104.39 L326.5,104.29 L327.0,104.21 L327.5,104.14 L328.0,104.09 L328.5,104.04 L329.0,104.01 L329.5,103.98 L330.0,103.96 L330.5,103.94 L331.0,103.93 L331.5,103.92 L332.0,103.92 L332.5,103.91 L333.0,103.91 L333.5,103.90 L334.0,103.90 L334.5,103.90 L335.0,103.90 L335.5,103.90 L336.0,103.90 L336.5,103.90 L337.0,103.90 L337.5,103.90 L338.0,103.90 L338.5,103.90 L339.0,103.90 L339.5,103.90 L340.0,103.90 L340.5,103.90 L341.0,103.90 L341.5,103.90 L342.0,103.90 L342.5,103.90 L343.0,103.90 L343.5,103.90 L344.0,103.90 L344.5,103.90 L345.0,103.90 L345.5,103.90 L346.0,103.90 L346.5,103.90 L347.0,103.90 L347.5,103.90 L348.0,103.90 L348.5,103.90 L349.0,103.90 L349.5,103.90 L350.0,103.90 L350.5,103.90 L351.0,103.90 L351.5,103.90 L352.0,103.90 L352.5,103.90 L353.0,103.90 L353.5,103.90 L354.0,103.90 L354.5,103.90 L355.0,103.90 L355.5,103.90 L356.0,103.90 L356.5,103.90 L357.0,103.90 L357.5,103.90 L358.0,103.90 L358.5,103.90 L359.0,103.90 L359.5,103.90 L360.0,103.90 L360.5,103.90 L361.0,103.90 L361.5,103.90 L362.0,103.90 L362.5,103.90 L363.0,103.90 L363.5,103.90 L364.0,103.90 L364.5,103.90 L365.0,103.90 L365.5,103.90 L366.0,103.90 L366.5,103.90 L367.0,103.90 L367.5,103.90 L368.0,103.90 L368.5,103.90 L369.0,103.90 L369.5,103.90 L370.0,103.90 L370.5,103.90 L371.0,103.90 L371.5,103.90 L372.0,103.90 L372.5,103.90 L373.0,103.90 L373.5,103.90 L374.0,103.90 L374.5,103.90 L375.0,103.90 L375.5,103.90 L376.0,103.90 L376.5,103.90 L377.0,103.90 L377.5,103.90 L378.0,103.90 L378.5,103.90 L379.0,103.90 L379.5,103.90 L380.0,103.90 L380.5,103.90 L381.0,103.90 L381.5,103.90 L382.0,103.90 L382.5,103.90 L383.0,103.90 L383.5,103.90 L384.0,103.90 L384.5,103.90 L385.0,103.90 L385.5,103.90 L386.0,103.90 L386.5,103.90 L387.0,103.90 L387.5,103.90 L388.0,103.90 L388.5,103.90 L389.0,103.90 L389.5,103.90 L390.0,103.90 L390.5,103.90 L391.0,103.90 L391.5,103.90 L392.0,103.90 L392.5,103.90 L393.0,103.90 L393.5,103.90 L394.0,103.90 L394.5,103.90 L395.0,103.90 L395.5,103.90 L396.0,103.90 L396.5,103.90 L397.0,103.90 L397.5,103.90 L398.0,103.90 L398.5,103.90 L399.0,103.90 L399.5,103.90 L400.0,103.90 L400.5,103.90 L401.0,103.90 L401.5,103.90 L402.0,103.90 L402.5,103.90 L403.0,103.90 L403.5,103.90 L404.0,103.90 L404.5,103.90 L405.0,103.90 L405.5,103.90 L406.0,103.90 L406.5,103.90" stroke="#000000"/>
<path d="M91.0,258.75 L91.5,258.75 L92.0,258.75 L92.5,258.75 L93.0,258.75 L93.5,258.75 L94.0,258.75 L94.5,258.75 L95.0,258.75 L95.5,258.75 L96.0,258.75 L96.5,258.75 L97.0,258.75 L97.5,258.75 L98.0,258.75 L98.5,258.75 L99.0,258.75 L99.5,258.75 L100.0,258.75 L100.5,258.75 L101.0,258.75 L101.5,258.75 L102.0,258.75 L102.5,258.75 L103.0,258.75 L103.5,258.75 L104.0,258.75 L104.5,258.75 L105.0,258.75 L105.5,258.75 L106.0,258.75 L106.5,258.75 L107.0,258.75 L107.5,258.75 L108.0,258.75 L108.5,258.75 L109.0,258.75 L109.5,258.75 L110.0,258.75 L110.5,258.75 L111.0,258.75 L111.5,258.75 L112.0,258.75 L112.5,258.75 L113.0,258.75 L113.5,258.75 L114.0,258.75 L114.5,258.75 L115.0,258.75 L115.5,258.75 L116.0,258.75 L116.5,258.75 L117.0,258.75 L117.5,258.75 L118.0,258.75 L118.5,258.75 L119.0,258.75 L119.5,258.75 L120.0,258.75 L120.5,258.75 L121.0,258.75 L121.5,258.75 L122.0,258.75 L122.5,258.75 L123.0,258.75 L123.5,258.75 L124.0,258.75 L124.5,258.75 L125.0,258.75 L125.5,258.75 L126.0,258.75 L126.5,258.75 L127.0,258.75 L127.5,258.75 L128.0,258.75 L128.5,258.75 L129.0,258.75 L129.5,258.75 L130.0,258.75 L130.5,258.75 L131.0,258.75 L131.5,258.75 L132.0,258.75 L132.5,258.75 L133.0,258.75 L133.5,258.75 L134.0,258.75 L134.5,258.75 L135.0,258.75 L135.5,258.75 L136.0,258.75 L136.5,258.75 L137.0,258.75 L137.5,258.75 L138.0,258.75 L138.5,258.75 L139.0,258.75 L139.5,258.75 L140.0,258.75 L140.5,258.75 L141.0,258.75 L141.5,258.75 L142.0,258.75 L142.5,258.75 L143.0,258.75 L143.5,258.75 L144.0,258.75 L144.5,258.75 L145.0,258.75 L145.5,258.75 L146.0,258.75 L146.5,258.75 L147.0,258.75 L147.5,258.75 L148.0,258.75 L148.5,258.75 L149.0,258.75 L149.5,258.75 L150.0,258.75 L150.5,258.75 L151.0,258.75 L151.5,258.75 L152.0,258.75 L152.5,258.75 L153.0,258.75 L153.5,258.75 L154.0,258.75 L154.5,258.75 L155.0,258.75 L155.5,258.75 L156.0,258.75 L156.5,258.75 L157.0,258.75 L157.5,258.75 L158.0,258.75 L158.5,258.75 L159.0,258.75 L159.5,258.75 L160.0,258.75 L160.5,258.75 L161.0,258.75 L161.5,258.75 L162.0,258.75 L162.5,258.75 L163.0,258.75 L163.5,258.75 L164.0,258.75 L164.5,258.75 L165.0,258.75 L165.5,258.75 L166.0,258.75 L166.5,258.75 L167.0,258.75 L167.5,258.75 L168.0,258.75 L168.5,258.75 L169.0,258.75 L169.5,258.75 L170.0,258.75 L170.5,258.75 L171.0,258.75 L171.5,258.75 L172.0,258.75 L172.5,258.75 L173.0,258.75 L173.5,258.75 L174.0,258.75 L174.5,258.75 L175.0,258.75 L175.5,258.75 L176.0,258.75 L176.5,258.75 L177.0,258.75 L177.5,258.75 L178.0,258.75 L178.5,258.75 L179.0,258.75 L179.5,258.75 L180.0,258.75 L180.5,258.75 L181.0,258.75 L181.5,258.75 L182.0,258.75 L182.5,258.75 L183.0,258.75 L183.5,258.75 L184.0,258.75 L184.5,258.75 L185.0,258.75 L185.5,258.75 L186.0,258.75 L186.5,258.75 L187.0,258.75 L187.5,258.75 L188.0,258.75 L188.5,258.75 L189.0,258.75 L189.5,258.75 L190.0,258.75 L190.5,258.75 L191.0,258.75 L191.5,258.75 L192.0,258.75 L192.5,258.75 L193.0,258.75 L193.5,258.75 L194.0,258.75 L194.5,258.75 L195.0,258.75 L195.5,258.75 L196.0,258.75 L196.5,258.75 L197.0,258.75 L197.5,258.75 L198.0,258.75 L198.5,258.75 L199.0,258.75 L199.5,258.75 L200.0,258.75 L200.5,258.75 L201.0,258.75 L201.5,258.75 L202.0,258.75 L202.5,258.75 L203.0,258.75 L203.5,258.75 L204.0,258.75 L204.5,258.75 L205.0,258.75 L205.5,258.75 L206.0,258.75 L206.5,258.75 L207.0,258.75 L207.5,258.75 L208.0,258.75 L208.5,258.75 L209.0,258.75 L209.5,258.75 L210.0,258.75 L210.5,258.75 L211.0,258.75 L211.5,258.75 L212.0,258.75 L212.5,258.75 L213.0,258.75 L213.5,258.75 L214.0,258.75 L214.5,258.75 L215.0,258.75 L215.5,258.75 L216.0,258.75 L216.5,258.75 L217.0,258.75 L217.5,258.75 L218.0,258.75 L218.5,258.75 L219.0,258.75 L219.5,258.75 L220.0,258.75 L220.5,258.75 L221.0,258.75 L221.5,258.75 L222.0,258.75 L222.5,258.75 L223.0,258.75 L223.5,258.75 L224.0,258.75 L224.5,258.75 L225.0,258.75 L225.5,258.75 L226.0,258.75 L226.5,258.75 L227.0,258.75 L227.5,258.75 L228.0,258.75 L228.5,258.75 L229.0,258.75 L229.5,258.75 L230.0,258.75 L230.5,258.75 L231.0,258.75 L231.5,258.75 L232.0,258.75 L232.5,258.75 L233.0,258.75 L233.5,258.75 L234.0,258.75 L234.5,258.75 L235.0,258.75 L235.5,258.75 L236.0,258.75 L236.5,258.75 L237.0,258.74 L237.5,258.74 L238.0,258.74 L238.5,258.74 L239.0,258.74 L239.5,258.74 L240.0,258.74 L240.5,258.74 L241.0,258.74 L241.5,258.74 L242.0,258.74 L242.5,258.74 L243.0,258.73 L243.5,258.73 L244.0,258.73 L244.5,258.73 L245.0,258.73 L245.5,258.73 L246.0,258.72 L246.5,258.72 L247.0,258.72 L247.5,258.72 L248.0,258.71 L248.5,258.71 L249.0,258.71 L249.5,258.70 L250.0,258.70 L250.5,258.70 L251.0,258.69 L251.5,258.69 L252.0,258.68 L252.5,258.67 L253.0,258.67 L253.5,258.66 L254.0,258.66 L254.5,258.65 L255.0,258.64 L255.5,258.63 L256.0,258.62 L256.5,258.61 L257.0,258.60 L257.5,258.59 L258.0,258.58 L258.5,258.57 L259.0,258.55 L259.5,258.54 L260.0,258.53 L260.5,258.51 L261.0,258.49 L261.5,258.47 L262.0,258.45 L262.5,258.43 L263.0,258.41 L263.5,258.39 L264.0,258.36 L264.5,258.34 L265.0,258.31 L265.5,258.28 L266.0,258.25 L266.5,258.22 L267.0,258.18 L267.5,258.14 L268.0,258.11 L268.5,258.06 L269.0,258.02 L269.5,257.98 L270.0,257.93 L270.5,257.88 L271.0,257.82 L271.5,257.77 L272.0,257.71 L272.5,257.64 L273.0,257.58 L273.5,257.51 L274.0,257.43 L274.5,257.36 L275.0,257.28 L275.5,257.19 L276.0,257.10 L276.5,257.01 L277.0,256.91 L277.5,256.81 L278.0,256.70 L278.5,256.59 L279.0,256.47 L279.5,256.35 L280.0,256.22 L280.5,256.08 L281.0,255.94 L281.5,255.80 L282.0,255.64 L282.5,255.48 L283.0,255.31 L283.5,255.14 L284.0,254.96 L284.5,254.77 L285.0,254.57 L285.5,254.37 L286.0,254.16 L286.5,253.93 L287.0,253.70 L287.5,253.46 L288.0,253.22 L288.5,252.96 L289.0,252.69 L289.5,252.41 L290.0,252.13 L290.5,251.83 L291.0,251.52 L291.5,251.20 L292.0,250.87 L292.5,250.53 L293.0,250.18 L293.5,249.81 L294.0,249.43 L294.5,249.04 L295.0,248.64 L295.5,248.23 L296.0,247.80 L296.5,247.36 L297.0,246.91 L297.5,246.44 L298.0,245.96 L298.5,245.47 L299.0,244.96 L299.5,244.44 L300.0,243.91 L300.5,243.36 L301.0,242.80 L301.5,242.22 L302.0,241.63 L302.5,241.02 L303.0,240.40 L303.5,239.77 L304.0,239.12 L304.5,238.46 L305.0,237.78 L305.5,237.09 L306.0,236.38 L306.5,235.66 L307.0,234.93 L307.5,234.18 L308.0,233.42 L308.5,232.65 L309.0,231.86 L309.5,231.06 L310.0,230.25 L310.5,229.42 L311.0,228.58 L311.5,227.73 L312.0,226.87 L312.5,226.00 L313.0,225.12 L313.5,224.22 L314.0,223.32 L314.5,222.41 L315.0,221.49 L315.5,220.56 L316.0,219.62 L316.5,218.68 L317.0,217.73 L317.5,216.77 L318.0,215.81 L318.5,214.85 L319.0,213.88 L319.5,212.90 L320.0,211.93 L320.5,210.95 L321.0,209.97 L321.5,208.99 L322.0,208.02 L322.5,207.04 L323.0,206.06 L323.5,205.09 L324.0,204.12 L324.5,203.16 L325.0,202.20 L325.5,201.25 L326.0,200.30 L326.5,199.36 L327.0,198.43 L327.5,197.51 L328.0,196.60 L328.5,195.70 L329.0,194.81 L329.5,193.93 L330.0,193.07 L330.5,192.22 L331.0,191.38 L331.5,190.56 L332.0,189.75 L332.5,188.96 L333.0,188.19 L333.5,187.43 L334.0,186.70 L334.5,185.97 L335.0,185.27 L335.5,184.59 L336.0,183.93 L336.5,183.28 L337.0,182.66 L337.5,182.05 L338.0,181.47 L338.5,180.91 L339.0,180.36 L339.5,179.84 L340.0,179.34 L340.5,178.86 L341.0,178.40 L341.5,177.96 L342.0,177.53 L342.5,177.13 L343.0,176.75 L343.5,176.39 L344.0,176.05 L344.5,175.72 L345.0,175.42 L345.5,175.13 L346.0,174.86 L346.5,174.60 L347.0,174.36 L347.5,174.14 L348.0,173.93 L348.5,173.74 L349.0,173.56 L349.5,173.40 L350.0,173.24 L350.5,173.10 L351.0,172.97 L351.5,172.86 L352.0,172.75 L352.5,172.65 L353.0,172.56 L353.5,172.48 L354.0,172.41 L354.5,172.35 L355.0,172.29 L355.5,172.24 L356.0,172.19 L356.5,172.15 L357.0,172.11 L357.5,172.08 L358.0,172.05 L358.5,172.03 L359.0,172.01 L359.5,171.99 L360.0,171.98 L360.5,171.96 L361.0,171.95 L361.5,171.94 L362.0,171.93 L362.5,171.93 L363.0,171.92 L363.5,171.92 L364.0,171.91 L364.5,171.91 L365.0,171.91 L365.5,171.91 L366.0,171.91 L366.5,171.90 L367.0,171.90 L367.5,171.90 L368.0,171.90 L368.5,171.90 L369.0,171.90 L369.5,171.90 L370.0,171.90 L370.5,171.90 L371.0,171.90 L371.5,171.90 L372.0,171.90 L372.5,171.90 L373.0,171.90 L373.5,171.90 L374.0,171.90 L374.5,171.90 L375.0,171.90 L375.5,171.90 L376.0,171.90 L376.5,171.90 L377.0,171.90 L377.5,171.90 L378.0,171.90 L378.5,171.90 L379.0,171.90 L379.5,171.90 L380.0,171.90 L380.5,171.90 L381.0,171.90 L381.5,171.90 L382.0,171.90 L382.5,171.90 L383.0,171.90 L383.5,171.90 L384.0,171.90 L384.5,171.90 L385.0,171.90 L385.5,171.90 L386.0,171.90 L386.5,171.90 L387.0,171.90 L387.5,171.90 L388.0,171.90 L388.5,171.90 L389.0,171.90 L389.5,171.90 L390.0,171.90 L390.5,171.90 L391.0,171.90 L391.5,171.90 L392.0,171.90 L392.5,171.90 L393.0,171.90 L393.5,171.90 L394.0,171.90 L394.5,171.90 L395.0,171.90 L395.5,171.90 L396.0,171.90 L396.5,171.90 L397.0,171.90 L397.5,171.90 L398.0,171.90 L398.5,171.90 L399.0,171.90 L399.5,171.90 L400.0,171.90 L400.5,171.90 L401.0,171.90 L401.5,171.90 L402.0,171.90 L402.5,171.90 L403.0,171.90 L403.5,171.90 L404.0,171.90 L404.5,171.90 L405.0,171.90 L405.5,171.90 L406.0,171.90 L406.5,171.90" stroke="#00bfbf"/>
<path d="M91.0,258.75 L91.5,258.75 L92.0,258.75 L92.5,258.75 L93.0,258.75 L93.5,258.75 L94.0,258.75 L94.5,258.75 L95.0,258.75 L95.5,258.75 L96.0,258.75 L96.5,258.75 L97.0,258.75 L97.5,258.75 L98.0,258.75 L98.5,258.75 L99.0,258.75 L99.5,258.75 L100.0,258.75 L100.5,258.75 L101.0,258.75 L101.5,258.75 L102.0,258.75 L102.5,258.75 L103.0,258.75 L103.5,258.75 L104.0,258.75 L104.5,258.75 L105.0,258.75 L105.5,258.75 L106.0,258.75 L106.5,258.75 L107.0,258.75 L107.5,258.75 L108.0,258.75 L108.5,258.75 L109.0,258.75 L109.5,258.75 L110.0,258.75 L110.5,258.75 L111.0,258.75 L111.5,258.75 L112.0,258.75 L112.5,258.75 L113.0,258.75 L113.5,258.75 L114.0,258.75 L114.5,258.75 L115.0,258.75 L115.5,258.75 L116.0,258.75 L116.5,258.75 L117.0,258.75 L117.5,258.75 L118.0,258.75 L118.5,258.75 L119.0,258.75 L119.5,258.75 L120.0,258.75 L120.5,258.75 L121.0,258.75 L121.5,258.75 L122.0,258.75 L122.5,258.75 L123.0,258.75 L123.5,258.75 L124.0,258.75 L124.5,258.75 L125.0,258.75 L125.5,258.75 L126.0,258.75 L126.5,258.75 L127.0,258.75 L127.5,258.75 L128.0,258.75 L128.5,258.75 L129.0,258.75 L129.5,258.75 L130.0,258.75 L130.5,258.75 L131.0,258.75 L131.5,258.75 L132.0,258.75 L132.5,258.75 L133.0,258.75 L133.5,258.75 L134.0,258.75 L134.5,258.75 L135.0,258.75 L135.5,258.75 L136.0,258.75 L136.5,258.75 L137.0,258.75 L137.5,258.75 L138.0,258.75 L138.5,258.75 L139.0,258.75 L139.5,258.75 L140.0,258.75 L140.5,258.75 L141.0,258.75 L141.5,258.75 L142.0,258.75 L142.5,258.75 L143.0,258.75 L143.5,258.75 L144.0,258.75 L144.5,258.75 L145.0,258.75 L145.5,258.75 L146.0,258.75 L146.5,258.75 L147.0,258.75 L147.5,258.75 L148.0,258.75 L148.5,258.75 L149.0,258.75 L149.5,258.75 L150.0,258.75 L150.5,258.75 L151.0,258.75 L151.5,258.75 L152.0,258.75 L152.5,258.75 L153.0,258.75 L153.5,258.75 L154.0,258.75 L154.5,258.75 L155.0,258.75 L155.5,258.75 L156.0,258.75 L156.5,258.75 L157.0,258.75 L157.5,258.75 L158.0,258.75 L158.5,258.75 L159.0,258.75 L159.5,258.75 L160.0,258.75 L160.5,258.75 L161.0,258.75 L161.5,258.75 L162.0,258.75 L162.5,258.75 L163.0,258.75 L163.5,258.75 L164.0,258.75 L164.5,258.75 L165.0,258.75 L165.5,258.75 L166.0,258.75 L166.5,258.75 L167.0,258.75 L167.5,258.75 L168.0,258.75 L168.5,258.75 L169.0,258.75 L169.5,258.75 L170.0,258.75 L170.5,258.75 L171.0,258.75 L171.5,258.75 L172.0,258.75 L172.5,258.75 L173.0,258.75 L173.5,258.75 L174.0,258.75 L174.5,258.75 L175.0,258.75 L175.5,258.75 L176.0,258.75 L176.5,258.75 L177.0,258.75 L177.5,258.75 L178.0,258.75 L178.5,258.75 L179.0,258.75 L179.5,258.75 L180.0,258.75 L180.5,258.75 L181.0,258.75 L181.5,258.75 L182.0,258.75 L182.5,258.75 L183.0,258.75 L183.5,258.75 L184.0,258.75 L184.5,258.75 L185.0,258.75 L185.5,258.75 L186.0,258.75 L186.5,258.75 L187.0,258.75 L187.5,258.75 L188.0,258.75 L188.5,258.75 L189.0,258.75 L189.5,258.75 L190.0,258.75 L190.5,258.75 L191.0,258.75 L191.5,258.75 L192.0,258.75 L192.5,258.75 L193.0,258.75 L193.5,258.75 L194.0,258.75 L194.5,258.75 L195.0,258.75 L195.5,258.75 L196.0,258.75 L196.5,258.75 L197.0,258.75 L197.5,258.75 L198.0,258.75 L198.5,258.75 L199.0,258.75 L199.5,258.75 L200.0,258.75 L200.5,258.75 L201.0,258.75 L201.5,258.75 L202.0,258.75 L202.5,258.75 L203.0,258.75 L203.5,258.75 L204.0,258.75 L204.5,258.75 L205.0,258.75 L205.5,258.75 L206.0,258.75 L206.5,258.75 L207.0,258.75 L207.5,258.75 L208.0,258.75 L208.5,258.75 L209.0,258.75 L209.5,258.75 L210.0,258.75 L210.5,258.75 L211.0,258.75 L211.5,258.75 L212.0,258.75 L212.5,258.75 L213.0,258.75 L213.5,258.75 L214.0,258.75 L214.5,258.75 L215.0,258.75 L215.5,258.75 L216.0,258.75 L216.5,258.75 L217.0,258.75 L217.5,258.75 L218.0,258.75 L218.5,258.75 L219.0,258.75 L219.5,258.75 L220.0,258.75 L220.5,258.75 L221.0,258.75 L221.5,258.75 L222.0,258.75 L222.5,258.75 L223.0,258.75 L223.5,258.75 L224.0,258.75 L224.5,258.75 L225.0,258.75 L225.5,258.75 L226.0,258.75 L226.5,258.75 L227.0,258.75 L227.5,258.75 L228.0,258.75 L228.5,258.75 L229.0,258.75 L229.5,258.75 L230.0,258.75 L230.5,258.75 L231.0,258.75 L231.5,258.75 L232.0,258.75 L232.5,258.75 L233.0,258.75 L233.5,258.75 L234.0,258.75 L234.5,258.75 L235.0,258.75 L235.5,258.75 L236.0,258.75 L236.5,258.75 L237.0,258.75 L237.5,258.75 L238.0,258.75 L238.5,258.75 L239.0,258.75 L239.5,258.75 L240.0,258.75 L240.5,258.74 L241.0,258.74 L241.5,258.74 L242.0,258.74 L242.5,258.74 L243.0,258.74 L243.5,258.74 L244.0,258.74 L244.5,258.74 L245.0,258.74 L245.5,258.74 L246.0,258.74 L246.5,258.74 L247.0,258.74 L247.5,258.74 L248.0,258.74 L248.5,258.74 L249.0,258.74 L249.5,258.73 L250.0,258.73 L250.5,258.73 L251.0,258.73 L251.5,258.73 L252.0,258.73 L252.5,258.73 L253.0,258.73 L253.5,258.72 L254.0,258.72 L254.5,258.72 L255.0,258.72 L255.5,258.72 L256.0,258.72 L256.5,258.71 L257.0,258.71 L257.5,258.71 L258.0,258.71 L258.5,258.71 L259.0,258.70 L259.5,258.70 L260.0,258.70 L260.5,258.69 L261.0,258.69 L261.5,258.69 L262.0,258.69 L262.5,258.68 L263.0,258.68 L263.5,258.67 L264.0,258.67 L264.5,258.67 L265.0,258.66 L265.5,258.66 L266.0,258.65 L266.5,258.65 L267.0,258.64 L267.5,258.64 L268.0,258.63 L268.5,258.62 L269.0,258.62 L269.5,258.61 L270.0,258.60 L270.5,258.60 L271.0,258.59 L271.5,258.58 L272.0,258.57 L272.5,258.57 L273.0,258.56 L273.5,258.55 L274.0,258.54 L274.5,258.53 L275.0,258.52 L275.5,258.51 L276.0,258.50 L276.5,258.49 L277.0,258.47 L277.5,258.46 L278.0,258.45 L278.5,258.43 L279.0,258.42 L279.5,258.41 L280.0,258.39 L280.5,258.37 L281.0,258.36 L281.5,258.34 L282.0,258.32 L282.5,258.31 L283.0,258.29 L283.5,258.27 L284.0,258.25 L284.5,258.23 L285.0,258.21 L285.5,258.18 L286.0,258.16 L286.5,258.14 L287.0,258.11 L287.5,258.09 L288.0,258.06 L288.5,258.03 L289.0,258.00 L289.5,257.97 L290.0,257.94 L290.5,257.91 L291.0,257.88 L291.5,257.85 L292.0,257.81 L292.5,257.78 L293.0,257.74 L293.5,257.70 L294.0,257.66 L294.5,257.63 L295.0,257.58 L295.5,257.54 L296.0,257.50 L296.5,257.45 L297.0,257.41 L297.5,257.36 L298.0,257.31 L298.5,257.26 L299.0,257.21 L299.5,257.15 L300.0,257.10 L300.5,257.04 L301.0,256.99 L301.5,256.93 L302.0,256.87 L302.5,256.80 L303.0,256.74 L303.5,256.67 L304.0,256.60 L304.5,256.53 L305.0,256.46 L305.5,256.39 L306.0,256.31 L306.5,256.24 L307.0,256.16 L307.5,256.08 L308.0,255.99 L308.5,255.91 L309.0,255.82 L309.5,255.73 L310.0,255.64 L310.5,255.55 L311.0,255.45 L311.5,255.36 L312.0,255.26 L312.5,255.15 L313.0,255.05 L313.5,254.94 L314.0,254.83 L314.5,254.72 L315.0,254.61 L315.5,254.49 L316.0,254.37 L316.5,254.25 L317.0,254.13 L317.5,254.00 L318.0,253.87 L318.5,253.74 L319.0,253.61 L319.5,253.47 L320.0,253.33 L320.5,253.19 L321.0,253.04 L321.5,252.90 L322.0,252.74 L322.5,252.59 L323.0,252.44 L323.5,252.28 L324.0,252.12 L324.5,251.95 L325.0,251.78 L325.5,251.61 L326.0,251.44 L326.5,251.26 L327.0,251.09 L327.5,250.90 L328.0,250.72 L328.5,250.53 L329.0,250.34 L329.5,250.15 L330.0,249.95 L330.5,249.75 L331.0,249.55 L331.5,249.34 L332.0,249.14 L332.5,248.93 L333.0,248.71 L333.5,248.49 L334.0,248.27 L334.5,248.05 L335.0,247.83 L335.5,247.60 L336.0,247.37 L336.5,247.13 L337.0,246.90 L337.5,246.66 L338.0,246.41 L338.5,246.17 L339.0,245.92 L339.5,245.67 L340.0,245.42 L340.5,245.16 L341.0,244.91 L341.5,244.64 L342.0,244.38 L342.5,244.12 L343.0,243.85 L343.5,243.58 L344.0,243.31 L344.5,243.03 L345.0,242.76 L345.5,242.48 L346.0,242.20 L346.5,241.92 L347.0,241.63 L347.5,241.35 L348.0,241.06 L348.5,240.77 L349.0,240.48 L349.5,240.19 L350.0,239.90 L350.5,239.61 L351.0,239.31 L351.5,239.02 L352.0,238.72 L352.5,238.43 L353.0,238.13 L353.5,237.83 L354.0,237.53 L354.5,237.23 L355.0,236.94 L355.5,236.64 L356.0,236.34 L356.5,236.04 L357.0,235.75 L357.5,235.45 L358.0,235.15 L358.5,234.86 L359.0,234.56 L359.5,234.27 L360.0,233.98 L360.5,233.69 L361.0,233.40 L361.5,233.12 L362.0,232.83 L362.5,232.55 L363.0,232.27 L363.5,231.99 L364.0,231.72 L364.5,231.45 L365.0,231.18 L365.5,230.91 L366.0,230.65 L366.5,230.39 L367.0,230.14 L367.5,229.89 L368.0,229.64 L368.5,229.40 L369.0,229.16 L369.5,228.92 L370.0,228.69 L370.5,228.47 L371.0,228.24 L371.5,228.03 L372.0,227.82 L372.5,227.61 L373.0,227.41 L373.5,227.21 L374.0,227.02 L374.5,226.84 L375.0,226.66 L375.5,226.48 L376.0,226.32 L376.5,226.15 L377.0,226.00 L377.5,225.84 L378.0,225.70 L378.5,225.56 L379.0,225.42 L379.5,225.30 L380.0,225.17 L380.5,225.05 L381.0,224.94 L381.5,224.84 L382.0,224.73 L382.5,224.64 L383.0,224.55 L383.5,224.46 L384.0,224.38 L384.5,224.31 L385.0,224.23 L385.5,224.17 L386.0,224.11 L386.5,224.05 L387.0,223.99 L387.5,223.95 L388.0,223.90 L388.5,223.86 L389.0,223.82 L389.5,223.78 L390.0,223.75 L390.5,223.72 L391.0,223.69 L391.5,223.67 L392.0,223.65 L392.5,223.63 L393.0,223.61 L393.5,223.60 L394.0,223.58 L394.5,223.57 L395.0,223.56 L395.5,223.55 L396.0,223.54 L396.5,223.54 L397.0,223.53 L397.5,223.52 L398.0,223.52 L398.5,223.52 L399.0,223.51 L399.5,223.51 L400.0,223.51 L400.5,223.51 L401.0,223.51 L401.5,223.50 L402.0,223.50 L402.5,223.50 L403.0,223.50 L403.5,223.50 L404.0,223.50 L404.5,223.50 L405.0,223.50 L405.5,223.50 L406.0,223.50 L406.5,223.50" stroke="#008000"/>
<path d="M91.0,258.74 L91.5,258.74 L92.0,258.74 L92.5,258.74 L93.0,258.74 L93.5,258.74 L94.0,258.74 L94.5,258.74 L95.0,258.74 L95.5,258.74 L96.0,258.74 L96.5,258.74 L97.0,258.74 L97.5,258.74 L98.0,258.74 L98.5,258.74 L99.0,258.74 L99.5,258.74 L100.0,258.74 L100.5,258.74 L101.0,258.74 L101.5,258.74 L102.0,258.74 L102.5,258.74 L103.0,258.74 L103.5,258.74 L104.0,258.74 L104.5,258.74 L105.0,258.73 L105.5,258.73 L106.0,258.73 L106.5,258.73 L107.0,258.73 L107.5,258.73 L108.0,258.73 L108.5,258.73 L109.0,258.73 L109.5,258.73 L110.0,258.73 L110.5,258.73 L111.0,258.73 L111.5,258.73 L112.0,258.73 L112.5,258.73 L113.0,258.73 L113.5,258.73 L114.0,258.73 L114.5,258.73 L115.0,258.73 L115.5,258.73 L116.0,258.73 L116.5,258.73 L117.0,258.72 L117.5,258.72 L118.0,258.72 L118.5,258.72 L119.0,258.72 L119.5,258.72 L120.0,258.72 L120.5,258.72 L121.0,258.72 L121.5,258.72 L122.0,258.72 L122.5,258.72 L123.0,258.72 L123.5,258.72 L124.0,258.72 L124.5,258.71 L125.0,258.71 L125.5,258.71 L126.0,258.71 L126.5,258.71 L127.0,258.71 L127.5,258.71 L128.0,258.71 L128.5,258.71 L129.0,258.71 L129.5,258.71 L130.0,258.70 L130.5,258.70 L131.0,258.70 L131.5,258.70 L132.0,258.70 L132.5,258.70 L133.0,258.70 L133.5,258.70 L134.0,258.69 L134.5,258.69 L135.0,258.69 L135.5,258.69 L136.0,258.69 L136.5,258.69 L137.0,258.69 L137.5,258.68 L138.0,258.68 L138.5,258.68 L139.0,258.68 L139.5,258.68 L140.0,258.68 L140.5,258.67 L141.0,258.67 L141.5,258.67 L142.0,258.67 L142.5,258.67 L143.0,258.66 L143.5,258.66 L144.0,258.66 L144.5,258.66 L145.0,258.66 L145.5,258.65 L146.0,258.65 L146.5,258.65 L147.0,258.65 L147.5,258.64 L148.0,258.64 L148.5,258.64 L149.0,258.63 L149.5,258.63 L150.0,258.63 L150.5,258.62 L151.0,258.62 L151.5,258.62 L152.0,258.61 L152.5,258.61 L153.0,258.61 L153.5,258.60 L154.0,258.60 L154.5,258.60 L155.0,258.59 L155.5,258.59 L156.0,258.58 L156.5,258.58 L157.0,258.57 L157.5,258.57 L158.0,258.57 L158.5,258.56 L159.0,258.56 L159.5,258.55 L160.0,258.54 L160.5,258.54 L161.0,258.53 L161.5,258.53 L162.0,258.52 L162.5,258.52 L163.0,258.51 L163.5,258.50 L164.0,258.50 L164.5,258.49 L165.0,258.48 L165.5,258.48 L166.0,258.47 L166.5,258.46 L167.0,258.45 L167.5,258.44 L168.0,258.44 L168.5,258.43 L169.0,258.42 L169.5,258.41 L170.0,258.40 L170.5,258.39 L171.0,258.38 L171.5,258.37 L172.0,258.36 L172.5,258.35 L173.0,258.34 L173.5,258.33 L174.0,258.32 L174.5,258.30 L175.0,258.29 L175.5,258.28 L176.0,258.27 L176.5,258.25 L177.0,258.24 L177.5,258.22 L178.0,258.21 L178.5,258.19 L179.0,258.18 L179.5,258.16 L180.0,258.15 L180.5,258.13 L181.0,258.11 L181.5,258.09 L182.0,258.08 L182.5,258.06 L183.0,258.04 L183.5,258.02 L184.0,258.00 L184.5,257.98 L185.0,257.95 L185.5,257.93 L186.0,257.91 L186.5,257.88 L187.0,257.86 L187.5,257.84 L188.0,257.81 L188.5,257.78 L189.0,257.76 L189.5,257.73 L190.0,257.70 L190.5,257.67 L191.0,257.64 L191.5,257.61 L192.0,257.57 L192.5,257.54 L193.0,257.51 L193.5,257.47 L194.0,257.44 L194.5,257.40 L195.0,257.36 L195.5,257.32 L196.0,257.28 L196.5,257.24 L197.0,257.20 L197.5,257.15 L198.0,257.11 L198.5,257.06 L199.0,257.01 L199.5,256.96 L200.0,256.91 L200.5,256.86 L201.0,256.80 L201.5,256.75 L202.0,256.69 L202.5,256.63 L203.0,256.57 L203.5,256.51 L204.0,256.45 L204.5,256.38 L205.0,256.31 L205.5,256.25 L206.0,256.17 L206.5,256.10 L207.0,256.02 L207.5,255.95 L208.0,255.87 L208.5,255.79 L209.0,255.70 L209.5,255.61 L210.0,255.52 L210.5,255.43 L211.0,255.34 L211.5,255.24 L212.0,255.14 L212.5,255.04 L213.0,254.93 L213.5,254.83 L214.0,254.71 L214.5,254.60 L215.0,254.48 L215.5,254.36 L216.0,254.24 L216.5,254.11 L217.0,253.98 L217.5,253.84 L218.0,253.70 L218.5,253.56 L219.0,253.41 L219.5,253.26 L220.0,253.10 L220.5,252.94 L221.0,252.78 L221.5,252.61 L222.0,252.44 L222.5,252.26 L223.0,252.08 L223.5,251.89 L224.0,251.70 L224.5,251.50 L225.0,251.30 L225.5,251.09 L226.0,250.87 L226.5,250.65 L227.0,250.42 L227.5,250.19 L228.0,249.95 L228.5,249.71 L229.0,249.45 L229.5,249.19 L230.0,248.93 L230.5,248.66 L231.0,248.38 L231.5,248.09 L232.0,247.79 L232.5,247.49 L233.0,247.18 L233.5,246.86 L234.0,246.53 L234.5,246.19 L235.0,245.85 L235.5,245.50 L236.0,245.13 L236.5,244.76 L237.0,244.38 L237.5,243.99 L238.0,243.58 L238.5,243.17 L239.0,242.75 L239.5,242.32 L240.0,241.87 L240.5,241.42 L241.0,240.95 L241.5,240.47 L242.0,239.98 L242.5,239.48 L243.0,238.96 L243.5,238.43 L244.0,237.89 L244.5,237.34 L245.0,236.77 L245.5,236.19 L246.0,235.60 L246.5,234.99 L247.0,234.37 L247.5,233.73 L248.0,233.08 L248.5,232.41 L249.0,231.73 L249.5,231.03 L250.0,230.31 L250.5,229.58 L251.0,228.83 L251.5,228.07 L252.0,227.29 L252.5,226.49 L253.0,225.67 L253.5,224.84 L254.0,223.99 L254.5,223.12 L255.0,222.23 L255.5,221.32 L256.0,220.40 L256.5,219.45 L257.0,218.49 L257.5,217.50 L258.0,216.50 L258.5,215.47 L259.0,214.43 L259.5,213.36 L260.0,212.28 L260.5,211.17 L261.0,210.05 L261.5,208.90 L262.0,207.73 L262.5,206.54 L263.0,205.33 L263.5,204.10 L264.0,202.84 L264.5,201.57 L265.0,200.27 L265.5,198.95 L266.0,197.61 L266.5,196.25 L267.0,194.87 L267.5,193.47 L268.0,192.04 L268.5,190.60 L269.0,189.13 L269.5,187.64 L270.0,186.13 L270.5,184.60 L271.0,183.06 L271.5,181.49 L272.0,179.90 L272.5,178.29 L273.0,176.66 L273.5,175.02 L274.0,173.36 L274.5,171.67 L275.0,169.98 L275.5,168.26 L276.0,166.53 L276.5,164.78 L277.0,163.02 L277.5,161.25 L278.0,159.46 L278.5,157.66 L279.0,155.84 L279.5,154.01 L280.0,152.18 L280.5,150.33 L281.0,148.48 L281.5,146.61 L282.0,144.74 L282.5,142.86 L283.0,140.98 L283.5,139.10 L284.0,137.21 L284.5,135.32 L285.0,133.42 L285.5,131.53 L286.0,129.64 L286.5,127.75 L287.0,125.87 L287.5,123.99 L288.0,122.11 L288.5,120.24 L289.0,118.38 L289.5,116.53 L290.0,114.70 L290.5,112.87 L291.0,111.06 L291.5,109.26 L292.0,107.47 L292.5,105.71 L293.0,103.96 L293.5,102.23 L294.0,100.52 L294.5,98.83 L295.0,97.16 L295.5,95.52 L296.0,93.90 L296.5,92.31 L297.0,90.75 L297.5,89.21 L298.0,87.70 L298.5,86.22 L299.0,84.77 L299.5,83.35 L300.0,81.97 L300.5,80.61 L301.0,79.29 L301.5,78.00 L302.0,76.74 L302.5,75.52 L303.0,74.33 L303.5,73.18 L304.0,72.07 L304.5,70.98 L305.0,69.94 L305.5,68.92 L306.0,67.95 L306.5,67.01 L307.0,66.10 L307.5,65.23 L308.0,64.39 L308.5,63.58 L309.0,62.81 L309.5,62.08 L310.0,61.37 L310.5,60.70 L311.0,60.06 L311.5,59.45 L312.0,58.87 L312.5,58.32 L313.0,57.80 L313.5,57.31 L314.0,56.84 L314.5,56.40 L315.0,55.98 L315.5,55.59 L316.0,55.23 L316.5,54.88 L317.0,54.56 L317.5,54.26 L318.0,53.98 L318.5,53.72 L319.0,53.48 L319.5,53.25 L320.0,53.04 L320.5,52.85 L321.0,52.67 L321.5,52.50 L322.0,52.35 L322.5,52.21 L323.0,52.08 L323.5,51.96 L324.0,51.85 L324.5,51.76 L325.0,51.67 L325.5,51.58 L326.0,51.51 L326.5,51.44 L327.0,51.38 L327.5,51.33 L328.0,51.28 L328.5,51.24 L329.0,51.20 L329.5,51.16 L330.0,51.13 L330.5,51.10 L331.0,51.08 L331.5,51.05 L332.0,51.03 L332.5,51.02 L333.0,51.00 L333.5,50.99 L334.0,50.98 L334.5,50.97 L335.0,50.96 L335.5,50.95 L336.0,50.94 L336.5,50.94 L337.0,50.93 L337.5,50.93 L338.0,50.92 L338.5,50.92 L339.0,50.92 L339.5,50.91 L340.0,50.91 L340.5,50.91 L341.0,50.91 L341.5,50.91 L342.0,50.91 L342.5,50.90 L343.0,50.90 L343.5,50.90 L344.0,50.90 L344.5,50.90 L345.0,50.90 L345.5,50.90 L346.0,50.90 L346.5,50.90 L347.0,50.90 L347.5,50.90 L348.0,50.90 L348.5,50.90 L349.0,50.90 L349.5,50.90 L350.0,50.90 L350.5,50.90 L351.0,50.90 L351.5,50.90 L352.0,50.90 L352.5,50.90 L353.0,50.90 L353.5,50.90 L354.0,50.90 L354.5,50.90 L355.0,50.90 L355.5,50.90 L356.0,50.90 L356.5,50.90 L357.0,50.90 L357.5,50.90 L358.0,50.90 L358.5,50.90 L359.0,50.90 L359.5,50.90 L360.0,50.90 L360.5,50.90 L361.0,50.90 L361.5,50.90 L362.0,50.90 L362.5,50.90 L363.0,50.90 L363.5,50.90 L364.0,50.90 L364.5,50.90 L365.0,50.90 L365.5,50.90 L366.0,50.90 L366.5,50.90 L367.0,50.90 L367.5,50.90 L368.0,50.90 L368.5,50.90 L369.0,50.90 L369.5,50.90 L370.0,50.90 L370.5,50.90 L371.0,50.90 L371.5,50.90 L372.0,50.90 L372.5,50.90 L373.0,50.90 L373.5,50.90 L374.0,50.90 L374.5,50.90 L375.0,50.90 L375.5,50.90 L376.0,50.90 L376.5,50.90 L377.0,50.90 L377.5,50.90 L378.0,50.90 L378.5,50.90 L379.0,50.90 L379.5,50.90 L380.0,50.90 L380.5,50.90 L381.0,50.90 L381.5,50.90 L382.0,50.90 L382.5,50.90 L383.0,50.90 L383.5,50.90 L384.0,50.90 L384.5,50.90 L385.0,50.90 L385.5,50.90 L386.0,50.90 L386.5,50.90 L387.0,50.90 L387.5,50.90 L388.0,50.90 L388.5,50.90 L389.0,50.90 L389.5,50.90 L390.0,50.90 L390.5,50.90 L391.0,50.90 L391.5,50.90 L392.0,50.90 L392.5,50.90 L393.0,50.90 L393.5,50.90 L394.0,50.90 L394.5,50.90 L395.0,50.90 L395.5,50.90 L396.0,50.90 L396.5,50.90 L397.0,50.90 L397.5,50.90 L398.0,50.90 L398.5,50.90 L399.0,50.90 L399.5,50.90 L400.0,50.90 L400.5,50.90 L401.0,50.90 L401.5,50.90 L402.0,50.90 L402.5,50.90 L403.0,50.90 L403.5,50.90 L404.0,50.90 L404.5,50.90 L405.0,50.90 L405.5,50.90 L406.0,50.90 L406.5,50.90" stroke="#000" stroke-width="2.3" stroke-dasharray="2.4 1.8"/>
</g>
<path d="M91.00,271.8v-4.9 M91.00,24.85v4.9 M169.93,271.8v-4.9 M169.93,24.85v4.9 M248.85,271.8v-4.9 M248.85,24.85v4.9 M327.77,271.8v-4.9 M327.77,24.85v4.9 M406.70,271.8v-4.9 M406.70,24.85v4.9 M91.0,260.04h4.9 M406.7,260.04h-4.9 M91.0,201.24h4.9 M406.7,201.24h-4.9 M91.0,142.45h4.9 M406.7,142.45h-4.9 M91.0,83.65h4.9 M406.7,83.65h-4.9 M91.0,24.85h4.9 M406.7,24.85h-4.9" stroke="#000" stroke-width="1.3" fill="none"/>
<path d="M146.17,271.8v-3.05 M146.17,24.85v3.05 M132.27,271.8v-3.05 M132.27,24.85v3.05 M122.41,271.8v-3.05 M122.41,24.85v3.05 M114.76,271.8v-3.05 M114.76,24.85v3.05 M108.51,271.8v-3.05 M108.51,24.85v3.05 M103.23,271.8v-3.05 M103.23,24.85v3.05 M98.65,271.8v-3.05 M98.65,24.85v3.05 M94.61,271.8v-3.05 M94.61,24.85v3.05 M225.09,271.8v-3.05 M225.09,24.85v3.05 M211.19,271.8v-3.05 M211.19,24.85v3.05 M201.33,271.8v-3.05 M201.33,24.85v3.05 M193.68,271.8v-3.05 M193.68,24.85v3.05 M187.43,271.8v-3.05 M187.43,24.85v3.05 M182.15,271.8v-3.05 M182.15,24.85v3.05 M177.57,271.8v-3.05 M177.57,24.85v3.05 M173.54,271.8v-3.05 M173.54,24.85v3.05 M304.02,271.8v-3.05 M304.02,24.85v3.05 M290.12,271.8v-3.05 M290.12,24.85v3.05 M280.26,271.8v-3.05 M280.26,24.85v3.05 M272.61,271.8v-3.05 M272.61,24.85v3.05 M266.36,271.8v-3.05 M266.36,24.85v3.05 M261.08,271.8v-3.05 M261.08,24.85v3.05 M256.50,271.8v-3.05 M256.50,24.85v3.05 M252.46,271.8v-3.05 M252.46,24.85v3.05 M382.94,271.8v-3.05 M382.94,24.85v3.05 M369.04,271.8v-3.05 M369.04,24.85v3.05 M359.18,271.8v-3.05 M359.18,24.85v3.05 M351.53,271.8v-3.05 M351.53,24.85v3.05 M345.28,271.8v-3.05 M345.28,24.85v3.05 M340.00,271.8v-3.05 M340.00,24.85v3.05 M335.42,271.8v-3.05 M335.42,24.85v3.05 M331.39,271.8v-3.05 M331.39,24.85v3.05 M91.0,271.80h3.05 M406.7,271.80h-3.05 M91.0,265.92h3.05 M406.7,265.92h-3.05 M91.0,254.16h3.05 M406.7,254.16h-3.05 M91.0,248.28h3.05 M406.7,248.28h-3.05 M91.0,242.40h3.05 M406.7,242.40h-3.05 M91.0,236.52h3.05 M406.7,236.52h-3.05 M91.0,230.64h3.05 M406.7,230.64h-3.05 M91.0,224.76h3.05 M406.7,224.76h-3.05 M91.0,218.88h3.05 M406.7,218.88h-3.05 M91.0,213.00h3.05 M406.7,213.00h-3.05 M91.0,207.12h3.05 M406.7,207.12h-3.05 M91.0,195.36h3.05 M406.7,195.36h-3.05 M91.0,189.48h3.05 M406.7,189.48h-3.05 M91.0,183.60h3.05 M406.7,183.60h-3.05 M91.0,177.72h3.05 M406.7,177.72h-3.05 M91.0,171.84h3.05 M406.7,171.84h-3.05 M91.0,165.96h3.05 M406.7,165.96h-3.05 M91.0,160.08h3.05 M406.7,160.08h-3.05 M91.0,154.20h3.05 M406.7,154.20h-3.05 M91.0,148.32h3.05 M406.7,148.32h-3.05 M91.0,136.57h3.05 M406.7,136.57h-3.05 M91.0,130.69h3.05 M406.7,130.69h-3.05 M91.0,124.81h3.05 M406.7,124.81h-3.05 M91.0,118.93h3.05 M406.7,118.93h-3.05 M91.0,113.05h3.05 M406.7,113.05h-3.05 M91.0,107.17h3.05 M406.7,107.17h-3.05 M91.0,101.29h3.05 M406.7,101.29h-3.05 M91.0,95.41h3.05 M406.7,95.41h-3.05 M91.0,89.53h3.05 M406.7,89.53h-3.05 M91.0,77.77h3.05 M406.7,77.77h-3.05 M91.0,71.89h3.05 M406.7,71.89h-3.05 M91.0,66.01h3.05 M406.7,66.01h-3.05 M91.0,60.13h3.05 M406.7,60.13h-3.05 M91.0,54.25h3.05 M406.7,54.25h-3.05 M91.0,48.37h3.05 M406.7,48.37h-3.05 M91.0,42.49h3.05 M406.7,42.49h-3.05 M91.0,36.61h3.05 M406.7,36.61h-3.05 M91.0,30.73h3.05 M406.7,30.73h-3.05" stroke="#000" stroke-width="1.15" fill="none"/>
<rect x="91.0" y="24.85" width="315.7" height="246.95000000000002" fill="none" stroke="#000" stroke-width="1.45"/>
<text x="87.0" y="266.44" font-size="17" text-anchor="end">0.455</text>
<text x="87.0" y="207.64" font-size="17" text-anchor="end">0.460</text>
<text x="87.0" y="148.85" font-size="17" text-anchor="end">0.465</text>
<text x="87.0" y="90.05" font-size="17" text-anchor="end">0.470</text>
<text x="87.0" y="31.25" font-size="17" text-anchor="end">0.475</text>
<text x="78.10" y="287.8" font-size="17">10<tspan font-size="12" dy="-6.3" dx="-0.2">2</tspan></text>
<text x="157.03" y="287.8" font-size="17">10<tspan font-size="12" dy="-6.3" dx="-0.2">1</tspan></text>
<text x="235.95" y="287.8" font-size="17">10<tspan font-size="12" dy="-6.3" dx="-0.2">0</tspan></text>
<text x="309.97" y="287.8" font-size="17">10</text>
<path d="M329.67,278.5h7.1" stroke="#222" stroke-width="1.15" fill="none"/>
<text x="337.97" y="281.5" font-size="12">1</text>
<text x="388.90" y="287.8" font-size="17">10</text>
<path d="M408.60,278.5h7.1" stroke="#222" stroke-width="1.15" fill="none"/>
<text x="416.90" y="281.5" font-size="12">2</text>
<g font-style="italic" fill="#111">
<text x="226.8" y="306.4" font-size="17">T</text>
<text x="236.4" y="308.8" font-size="12" font-family="Liberation Serif" fill="#3a3a3a">ν</text>
<path d="M243.9,310.3 L248.6,294.9" stroke="#111" stroke-width="1.0" fill="none"/>
<text x="251.6" y="306.4" font-size="17.3">m</text>
<text x="265.8" y="308.9" font-size="12" font-family="Liberation Serif" fill="#3a3a3a">ϕ</text>
</g>
<g transform="translate(28.9,198) rotate(-90)" fill="#111" font-size="17">
<text x="0.2" y="-1.0" font-size="16.5">(</text>
<text x="7.6" y="0" font-style="italic">ρ</text>
<text x="15.6" y="3.2" font-size="12" font-style="italic" font-family="Liberation Serif" fill="#3a3a3a">ϕ</text>
<text x="28.3" y="0">+</text>
<text x="40.8" y="0" font-style="italic">ρ</text>
<text x="48.8" y="3.2" font-size="12" font-style="italic" font-family="Liberation Serif" fill="#3a3a3a">ν</text>
<text x="58.6" y="-1.0" font-size="16.5">)</text>
<path d="M63.6,3.8 L70.4,-11.6" stroke="#111" stroke-width="1.0" fill="none"/>
<text x="70.0" y="0" font-style="italic">T</text>
<text x="83.8" y="-6.3" font-size="12">4</text>
<text x="84.0" y="6.6" font-size="10.5" font-style="italic" font-family="Liberation Serif" fill="#333">γ</text>
</g>
<text x="100.8" y="42.9" font-size="13.3" fill="#222">Γ<tspan font-size="10.2" dy="2.6" dx="0.1">eff</tspan></text>
<text x="100.3" y="61.00" font-size="13.4" fill="#ff0000">100</text>
<text x="100.3" y="74.10" font-size="13.4" fill="#0000ff">10</text>
<text x="100.3" y="87.20" font-size="13.4" fill="#bf00bf">1</text>
<text x="100.3" y="100.30" font-size="13.4" fill="#000000">0.1</text>
<text x="100.3" y="113.40" font-size="13.4" fill="#00bfbf">0.01</text>
<text x="100.3" y="126.50" font-size="13.4" fill="#008000">0.001</text>
<path d="M98.25,225.1 H122" stroke="#000" stroke-width="2.3" stroke-dasharray="2.4 1.8" fill="none"/>
<text x="128.8" y="229" font-size="12" fill="#000">Thermal Equilibrium</text>
</svg></body></html>
